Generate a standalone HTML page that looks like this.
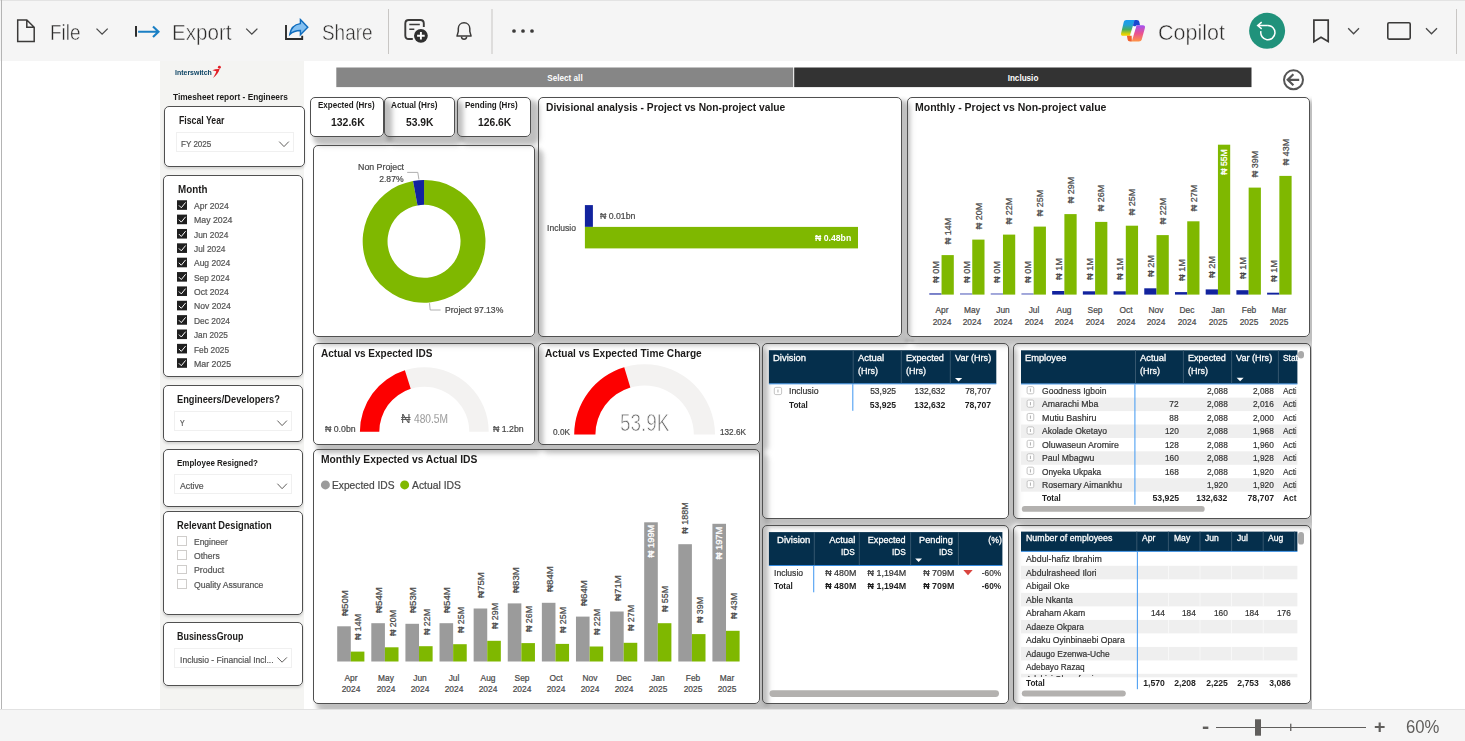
<!DOCTYPE html><html lang="en"><head><meta charset="utf-8"><title>Timesheet report - Engineers</title>
<style>

*{box-sizing:border-box}
html,body{margin:0;padding:0}
body{width:1465px;height:741px;overflow:hidden;background:#fff;position:relative;
 font-family:"Liberation Sans","DejaVu Sans",sans-serif;}
#top{position:absolute;left:0;top:0;width:1465px;height:61px;background:#f5f5f5;border-top:1px solid #e3e3e3}
#bot{position:absolute;left:0;top:709px;width:1465px;height:32px;background:#f5f5f5;border-top:1px solid #e2e2e2}
#lb{position:absolute;left:1px;top:0;width:1px;height:709px;background:#b4b4b4}
#side{position:absolute;left:160px;top:61px;width:144px;height:648px;background:#f4f4f2}
#canvas{position:absolute;left:160px;top:61px;width:1152px;height:648px;overflow:hidden}
#inner{position:absolute;left:-160px;top:-61px;width:1465px;height:741px}
.cbg{position:absolute;background:#fff;border-radius:5px}
.ssh{box-shadow:0 2px 2.5px rgba(0,0,0,.13)}
.csh{position:absolute;border-radius:5px;box-shadow:5.5px 5.5px 4px 2.5px rgba(0,0,0,.19),7px 7px 7px 2px rgba(0,0,0,.08)}
.cbd{position:absolute;border:1px solid #505050;border-radius:5px}
.t{position:absolute;white-space:nowrap;display:block}
svg{position:absolute;left:0;top:0;overflow:visible}

</style></head><body>
<div id="top"></div><div id="bot"></div><div id="lb"></div><div id="side"></div>
<div id="canvas"><div id="inner">
<div class="cbg" style="left:310px;top:97px;width:74px;height:40px;"></div>
<div class="cbg" style="left:384px;top:97px;width:71px;height:40px;"></div>
<div class="cbg" style="left:457px;top:97px;width:74px;height:40px;"></div>
<div class="cbg" style="left:313px;top:145px;width:222px;height:192px;"></div>
<div class="cbg" style="left:538px;top:97px;width:364px;height:240px;"></div>
<div class="cbg" style="left:907px;top:97px;width:403px;height:240px;"></div>
<div class="cbg" style="left:313px;top:343px;width:222px;height:102px;"></div>
<div class="cbg" style="left:538px;top:343px;width:222px;height:102px;"></div>
<div class="cbg" style="left:762px;top:343px;width:247px;height:176px;"></div>
<div class="cbg" style="left:1013px;top:343px;width:298px;height:176px;"></div>
<div class="cbg" style="left:313px;top:449px;width:447px;height:255px;"></div>
<div class="cbg" style="left:762px;top:525px;width:247px;height:179px;"></div>
<div class="cbg" style="left:1013px;top:525px;width:298px;height:179px;"></div>
<div class="cbg ssh" style="left:164px;top:106px;width:141px;height:61px;"></div>
<div class="cbg ssh" style="left:163px;top:175px;width:140px;height:202px;"></div>
<div class="cbg ssh" style="left:163px;top:385px;width:140px;height:57px;"></div>
<div class="cbg ssh" style="left:163px;top:449px;width:140px;height:58px;"></div>
<div class="cbg ssh" style="left:163px;top:511px;width:140px;height:104px;"></div>
<div class="cbg ssh" style="left:163px;top:622px;width:140px;height:64px;"></div>
<div class="csh" style="left:310px;top:97px;width:74px;height:40px;"></div>
<div class="csh" style="left:384px;top:97px;width:71px;height:40px;"></div>
<div class="csh" style="left:457px;top:97px;width:74px;height:40px;"></div>
<div class="csh" style="left:313px;top:145px;width:222px;height:192px;"></div>
<div class="csh" style="left:538px;top:97px;width:364px;height:240px;"></div>
<div class="csh" style="left:907px;top:97px;width:403px;height:240px;"></div>
<div class="csh" style="left:313px;top:343px;width:222px;height:102px;"></div>
<div class="csh" style="left:538px;top:343px;width:222px;height:102px;"></div>
<div class="csh" style="left:762px;top:343px;width:247px;height:176px;"></div>
<div class="csh" style="left:1013px;top:343px;width:298px;height:176px;"></div>
<div class="csh" style="left:313px;top:449px;width:447px;height:255px;"></div>
<div class="csh" style="left:762px;top:525px;width:247px;height:179px;"></div>
<div class="csh" style="left:1013px;top:525px;width:298px;height:179px;"></div>
<div style="position:absolute;left:905px;top:338.5px;width:9px;height:4px;background:rgba(0,0,0,.16);filter:blur(1.6px)"></div>
<div class="cbd" style="left:310px;top:97px;width:74px;height:40px;"></div>
<div class="cbd" style="left:384px;top:97px;width:71px;height:40px;"></div>
<div class="cbd" style="left:457px;top:97px;width:74px;height:40px;"></div>
<div class="cbd" style="left:313px;top:145px;width:222px;height:192px;"></div>
<div class="cbd" style="left:538px;top:97px;width:364px;height:240px;"></div>
<div class="cbd" style="left:907px;top:97px;width:403px;height:240px;"></div>
<div class="cbd" style="left:313px;top:343px;width:222px;height:102px;"></div>
<div class="cbd" style="left:538px;top:343px;width:222px;height:102px;"></div>
<div class="cbd" style="left:762px;top:343px;width:247px;height:176px;"></div>
<div class="cbd" style="left:1013px;top:343px;width:298px;height:176px;"></div>
<div class="cbd" style="left:313px;top:449px;width:447px;height:255px;"></div>
<div class="cbd" style="left:762px;top:525px;width:247px;height:179px;"></div>
<div class="cbd" style="left:1013px;top:525px;width:298px;height:179px;"></div>
<div class="cbd" style="left:164px;top:106px;width:141px;height:61px;"></div>
<div class="cbd" style="left:163px;top:175px;width:140px;height:202px;"></div>
<div class="cbd" style="left:163px;top:385px;width:140px;height:57px;"></div>
<div class="cbd" style="left:163px;top:449px;width:140px;height:58px;"></div>
<div class="cbd" style="left:163px;top:511px;width:140px;height:104px;"></div>
<div class="cbd" style="left:163px;top:622px;width:140px;height:64px;"></div>
</div></div>
<div style="position:absolute;left:176px;top:132px;width:118px;height:20px;background:#fff;border:1px solid #f0f0f0;"></div>
<div style="position:absolute;left:174px;top:411px;width:118px;height:20px;background:#fff;border:1px solid #f0f0f0;"></div>
<div style="position:absolute;left:174px;top:474px;width:118px;height:20px;background:#fff;border:1px solid #f0f0f0;"></div>
<div style="position:absolute;left:177px;top:536.4px;width:10px;height:9.6px;background:#fff;border:1px solid #cfcdcb;"></div>
<div style="position:absolute;left:177px;top:550.3px;width:10px;height:9.6px;background:#fff;border:1px solid #cfcdcb;"></div>
<div style="position:absolute;left:177px;top:564.7px;width:10px;height:9.6px;background:#fff;border:1px solid #cfcdcb;"></div>
<div style="position:absolute;left:177px;top:579px;width:10px;height:9.6px;background:#fff;border:1px solid #cfcdcb;"></div>
<div style="position:absolute;left:174px;top:648px;width:118px;height:20px;background:#fff;border:1px solid #f0f0f0;"></div>
<svg width="1465" height="741" viewBox="0 0 1465 741">
<path d="M17.7 19.9H26.8L34.2 27.3V41.6H17.7Z M26.8 19.9V27.3H34.2" fill="none" stroke="#3b3a39" stroke-width="1.5" stroke-linejoin="miter"/>
<polyline points="96.5,28.6 102.1,34.2 107.7,28.6" fill="none" stroke="#4a4a4a" stroke-width="1.30"/>
<path d="M136 26V36.8" stroke="#2e2e2e" stroke-width="2" fill="none"/>
<path d="M138.1 31.75H158.2 M153 26.4L158.5 31.75L153 37.1" stroke="#1a7fc4" stroke-width="2.1" fill="none"/>
<polyline points="246.2,28.6 251.8,34.2 257.4,28.6" fill="none" stroke="#4a4a4a" stroke-width="1.30"/>
<path d="M286 25V39H302.2V35.8" stroke="#2b2b2b" stroke-width="1.9" fill="none"/>
<path d="M300.4 19.6L307.8 27.2L300.4 34.8V30.5C296 30.5 292.6 31.8 289.8 34.4C290.6 28.6 294 24.5 300.4 23.6Z" fill="#84c0f1" stroke="#0f6cbd" stroke-width="1.4" stroke-linejoin="miter"/>
<rect x="388.00" y="9.00" width="1.00" height="45.00" fill="#c8c6c4" />
<path d="M412.8 39H408.8C406.8 39 405.3 37.5 405.3 35.5V23.5C405.3 21.5 406.8 20 408.8 20H420.3C422.3 20 423.8 21.5 423.8 23.5V27" fill="none" stroke="#3b3a39" stroke-width="1.9"/>
<path d="M409.3 24.6H419.8 M409.3 29.3H414.3" stroke="#3b3a39" stroke-width="1.5" fill="none"/>
<circle cx="420.9" cy="35.8" r="7.6" fill="#f5f5f5"/>
<circle cx="420.9" cy="35.8" r="6.9" fill="#2f2f2f"/>
<path d="M417.1 35.8H424.7 M420.9 32V39.6" stroke="#fff" stroke-width="1.9" fill="none"/>
<path d="M457 36.1H471.1L469.8 31.4V28.6C469.8 25.2 467.3 22.8 464.05 22.8C460.8 22.8 458.3 25.2 458.3 28.6V31.4Z" fill="none" stroke="#3b3a39" stroke-width="1.5" stroke-linejoin="round"/>
<path d="M461.4 36.6C461.6 38.3 462.7 39.2 464.05 39.2C465.4 39.2 466.5 38.3 466.7 36.6" fill="none" stroke="#3b3a39" stroke-width="1.4"/>
<rect x="491.50" y="9.00" width="1.00" height="45.00" fill="#c8c6c4" />
<circle cx="514.0" cy="31" r="1.85" fill="#3b3a39"/>
<circle cx="523.0" cy="31" r="1.85" fill="#3b3a39"/>
<circle cx="532.0" cy="31" r="1.85" fill="#3b3a39"/>
<defs>
<linearGradient id="cpA" x1="0" y1="0" x2="0" y2="1"><stop offset="0" stop-color="#1a9bf0"/><stop offset=".3" stop-color="#22a0d8"/><stop offset=".6" stop-color="#48ad5e"/><stop offset=".9" stop-color="#e6d400"/><stop offset="1" stop-color="#f0d000"/></linearGradient>
<linearGradient id="cpB" x1="0" y1="0" x2="0" y2="1"><stop offset="0" stop-color="#a352f2"/><stop offset=".5" stop-color="#ea5190"/><stop offset="1" stop-color="#ff9544"/></linearGradient>
<linearGradient id="cpC" x1="0" y1="0" x2="1" y2="0"><stop offset="0" stop-color="#1e5fd0"/><stop offset="1" stop-color="#58b8f0"/></linearGradient>
</defs>
<path d="M1126.4 20.1H1134.7L1129.8 35.8H1123.2C1121.4 35.8 1120.7 34.8 1121.1 33.2L1123.7 22.2C1124.1 20.8 1124.9 20.1 1126.4 20.1Z" fill="url(#cpA)"/>
<path d="M1134.5 20.1H1136.8C1138.4 20.1 1139.1 20.9 1139.4 22.3L1140 25.3H1136.6L1134.9 26.7L1132.9 25.6Z" fill="#1848d0"/>
<path d="M1126.9 35.8H1131.6L1131.9 41.5H1130.2C1128.6 41.5 1127.9 40.8 1127.6 39.5Z" fill="#f2602a"/>
<path d="M1136.6 25.3H1142.9C1144.7 25.3 1145.3 26.3 1144.9 27.9L1141.8 39.3C1141.3 40.8 1140.4 41.5 1138.9 41.5H1131.8Z" fill="url(#cpB)"/>
<path d="M1133.9 26.6H1135.9L1133 35.2H1130.9Z" fill="#fff"/>
<circle cx="1267.1" cy="30.8" r="18" fill="#20927b"/>
<path d="M1267.9 25.5A7.1 7.1 0 1 1 1260.9 31.2" fill="none" stroke="#fff" stroke-width="1.5"/>
<path d="M1267.9 25.5H1257.8 M1261.7 22.1L1257.7 25.5L1261.7 28.9" fill="none" stroke="#fff" stroke-width="1.5"/>
<path d="M1313.9 20.1H1328.2V41.6L1321 37.2L1313.9 41.6Z" fill="none" stroke="#3b3a39" stroke-width="1.7"/>
<polyline points="1348.2,28.2 1353.6,33.8 1359.0,28.2" fill="none" stroke="#4a4a4a" stroke-width="1.30"/>
<rect x="1387.8" y="22.8" width="22.4" height="16.3" rx="1.3" fill="none" stroke="#3b3a39" stroke-width="1.6"/>
<polyline points="1426.0,28.2 1431.5,33.8 1437.0,28.2" fill="none" stroke="#4a4a4a" stroke-width="1.30"/>
<rect x="1456.00" y="9.00" width="1.00" height="45.00" fill="#c8c6c4" />
<rect x="1216.00" y="727.00" width="150.00" height="1.00" fill="#605e5c" />
<rect x="1255.00" y="719.30" width="6.00" height="16.40" fill="#605e5c" />
<rect x="1290.10" y="723.70" width="1.30" height="7.30" fill="#605e5c" />
<circle cx="219.4" cy="67.2" r="1.45" fill="#e21f26"/>
<path d="M212.3 70.3C214.8 69.3 217 68.9 219.6 69.1C218.8 72.4 216.5 75.7 213 78.1C214.5 75.7 215.7 73.5 216.3 71.3C215 70.9 213.6 70.6 212.3 70.3Z" fill="#e21f26"/>
<polyline points="279.2,141.6 284.0,146.6 288.8,141.6" fill="none" stroke="#605e5c" stroke-width="1.00"/>
<rect x="177.00" y="200.25" width="10.00" height="9.60" fill="#1f1f1f" />
<polyline points="178.90,205.35 181.30,207.75 185.60,202.45" fill="none" stroke="#fff" stroke-width="1"/>
<rect x="177.00" y="214.61" width="10.00" height="9.60" fill="#1f1f1f" />
<polyline points="178.90,219.71 181.30,222.11 185.60,216.81" fill="none" stroke="#fff" stroke-width="1"/>
<rect x="177.00" y="228.97" width="10.00" height="9.60" fill="#1f1f1f" />
<polyline points="178.90,234.07 181.30,236.47 185.60,231.17" fill="none" stroke="#fff" stroke-width="1"/>
<rect x="177.00" y="243.33" width="10.00" height="9.60" fill="#1f1f1f" />
<polyline points="178.90,248.43 181.30,250.83 185.60,245.53" fill="none" stroke="#fff" stroke-width="1"/>
<rect x="177.00" y="257.69" width="10.00" height="9.60" fill="#1f1f1f" />
<polyline points="178.90,262.79 181.30,265.19 185.60,259.89" fill="none" stroke="#fff" stroke-width="1"/>
<rect x="177.00" y="272.05" width="10.00" height="9.60" fill="#1f1f1f" />
<polyline points="178.90,277.15 181.30,279.55 185.60,274.25" fill="none" stroke="#fff" stroke-width="1"/>
<rect x="177.00" y="286.41" width="10.00" height="9.60" fill="#1f1f1f" />
<polyline points="178.90,291.51 181.30,293.91 185.60,288.61" fill="none" stroke="#fff" stroke-width="1"/>
<rect x="177.00" y="300.77" width="10.00" height="9.60" fill="#1f1f1f" />
<polyline points="178.90,305.87 181.30,308.27 185.60,302.97" fill="none" stroke="#fff" stroke-width="1"/>
<rect x="177.00" y="315.13" width="10.00" height="9.60" fill="#1f1f1f" />
<polyline points="178.90,320.23 181.30,322.63 185.60,317.33" fill="none" stroke="#fff" stroke-width="1"/>
<rect x="177.00" y="329.49" width="10.00" height="9.60" fill="#1f1f1f" />
<polyline points="178.90,334.59 181.30,336.99 185.60,331.69" fill="none" stroke="#fff" stroke-width="1"/>
<rect x="177.00" y="343.85" width="10.00" height="9.60" fill="#1f1f1f" />
<polyline points="178.90,348.95 181.30,351.35 185.60,346.05" fill="none" stroke="#fff" stroke-width="1"/>
<rect x="177.00" y="358.21" width="10.00" height="9.60" fill="#1f1f1f" />
<polyline points="178.90,363.31 181.30,365.71 185.60,360.41" fill="none" stroke="#fff" stroke-width="1"/>
<polyline points="277.4,420.6 282.1,425.6 286.9,420.6" fill="none" stroke="#605e5c" stroke-width="1.00"/>
<polyline points="277.4,483.7 282.1,488.7 286.9,483.7" fill="none" stroke="#605e5c" stroke-width="1.00"/>
<polyline points="277.4,657.4 282.1,662.2 286.9,657.4" fill="none" stroke="#605e5c" stroke-width="1.00"/>
<rect x="336.30" y="67.50" width="456.90" height="19.60" fill="#868686" />
<rect x="794.20" y="67.50" width="457.30" height="19.60" fill="#333333" />
<circle cx="1293.5" cy="79.8" r="9.5" fill="none" stroke="#555" stroke-width="2"/>
<path d="M1299.2 79.8H1288 M1293.4 74.3L1287.7 79.8L1293.4 85.3" fill="none" stroke="#555" stroke-width="2.2"/>
<path d="M424.05 179.90A61.40 61.40 0 1 1 413.04 180.90L417.50 205.39A36.50 36.50 0 1 0 424.05 204.80Z" fill="#7fb800"/>
<path d="M413.04 180.90A61.40 61.40 0 0 1 424.05 179.90L424.05 204.80A36.50 36.50 0 0 0 417.50 205.39Z" fill="#12239e"/>
<polyline points="407.2,172.4 417.8,172.4 418.9,179.4" fill="none" stroke="#a6a6a6" stroke-width="0.9"/>
<polyline points="429.5,303.2 430.2,310 440.6,310" fill="none" stroke="#a6a6a6" stroke-width="0.9"/>
<rect x="584.90" y="205.10" width="8.00" height="21.80" fill="#12239e" />
<rect x="584.90" y="226.90" width="273.10" height="21.50" fill="#7fb800" />
<rect x="929.30" y="293.35" width="12.25" height="1.25" fill="#2e3aab" />
<rect x="941.55" y="255.10" width="12.25" height="39.50" fill="#7fb800" />
<rect x="960.01" y="293.35" width="12.25" height="1.25" fill="#6c76c5" />
<rect x="972.26" y="239.60" width="12.25" height="55.00" fill="#7fb800" />
<rect x="990.72" y="293.35" width="12.25" height="1.25" fill="#6c76c5" />
<rect x="1002.97" y="234.60" width="12.25" height="60.00" fill="#7fb800" />
<rect x="1021.43" y="293.35" width="12.25" height="1.25" fill="#6c76c5" />
<rect x="1033.68" y="226.60" width="12.25" height="68.00" fill="#7fb800" />
<rect x="1052.14" y="291.00" width="12.25" height="3.60" fill="#12239e" />
<rect x="1064.39" y="214.10" width="12.25" height="80.50" fill="#7fb800" />
<rect x="1082.85" y="291.30" width="12.25" height="3.30" fill="#12239e" />
<rect x="1095.10" y="221.90" width="12.25" height="72.70" fill="#7fb800" />
<rect x="1113.56" y="291.30" width="12.25" height="3.30" fill="#12239e" />
<rect x="1125.81" y="225.70" width="12.25" height="68.90" fill="#7fb800" />
<rect x="1144.27" y="288.30" width="12.25" height="6.30" fill="#12239e" />
<rect x="1156.52" y="235.10" width="12.25" height="59.50" fill="#7fb800" />
<rect x="1174.98" y="292.10" width="12.25" height="2.50" fill="#12239e" />
<rect x="1187.23" y="221.30" width="12.25" height="73.30" fill="#7fb800" />
<rect x="1205.69" y="289.40" width="12.25" height="5.20" fill="#12239e" />
<rect x="1217.94" y="144.70" width="12.25" height="149.90" fill="#7fb800" />
<rect x="1236.40" y="290.20" width="12.25" height="4.40" fill="#12239e" />
<rect x="1248.65" y="187.60" width="12.25" height="107.00" fill="#7fb800" />
<rect x="1267.11" y="292.70" width="12.25" height="1.90" fill="#12239e" />
<rect x="1279.36" y="175.90" width="12.25" height="118.70" fill="#7fb800" />
<path d="M359.90 431.70A64.40 64.40 0 0 1 488.70 431.70L469.30 431.70A45.00 45.00 0 0 0 379.30 431.70Z" fill="#f3f2f1"/>
<path d="M359.90 431.70A64.40 64.40 0 0 1 404.86 370.30L410.72 388.80A45.00 45.00 0 0 0 379.30 431.70Z" fill="#fd0000"/>
<path d="M574.20 434.60A70.40 70.40 0 0 1 715.00 434.60L693.80 434.60A49.20 49.20 0 0 0 595.40 434.60Z" fill="#f3f2f1"/>
<path d="M574.20 434.60A70.40 70.40 0 0 1 624.22 367.22L630.35 387.51A49.20 49.20 0 0 0 595.40 434.60Z" fill="#fd0000"/>
<circle cx="325.4" cy="484.9" r="4.5" fill="#9b9b9b"/>
<circle cx="404.65" cy="484.9" r="4.5" fill="#7fb800"/>
<rect x="337.20" y="626.30" width="13.60" height="35.20" fill="#9b9b9b" />
<rect x="350.80" y="651.60" width="13.60" height="9.90" fill="#7fb800" />
<rect x="371.31" y="623.20" width="13.60" height="38.30" fill="#9b9b9b" />
<rect x="384.91" y="647.30" width="13.60" height="14.20" fill="#7fb800" />
<rect x="405.42" y="623.80" width="13.60" height="37.70" fill="#9b9b9b" />
<rect x="419.02" y="646.20" width="13.60" height="15.30" fill="#7fb800" />
<rect x="439.53" y="623.20" width="13.60" height="38.30" fill="#9b9b9b" />
<rect x="453.13" y="644.20" width="13.60" height="17.30" fill="#7fb800" />
<rect x="473.64" y="608.50" width="13.60" height="53.00" fill="#9b9b9b" />
<rect x="487.24" y="640.80" width="13.60" height="20.70" fill="#7fb800" />
<rect x="507.75" y="603.40" width="13.60" height="58.10" fill="#9b9b9b" />
<rect x="521.35" y="643.10" width="13.60" height="18.40" fill="#7fb800" />
<rect x="541.86" y="602.80" width="13.60" height="58.70" fill="#9b9b9b" />
<rect x="555.46" y="643.90" width="13.60" height="17.60" fill="#7fb800" />
<rect x="575.97" y="616.60" width="13.60" height="44.90" fill="#9b9b9b" />
<rect x="589.57" y="646.50" width="13.60" height="15.00" fill="#7fb800" />
<rect x="610.08" y="611.50" width="13.60" height="50.00" fill="#9b9b9b" />
<rect x="623.68" y="642.80" width="13.60" height="18.70" fill="#7fb800" />
<rect x="644.19" y="522.30" width="13.60" height="139.20" fill="#9b9b9b" />
<rect x="657.79" y="623.20" width="13.60" height="38.30" fill="#7fb800" />
<rect x="678.30" y="544.20" width="13.60" height="117.30" fill="#9b9b9b" />
<rect x="691.90" y="634.10" width="13.60" height="27.40" fill="#7fb800" />
<rect x="712.41" y="523.80" width="13.60" height="137.70" fill="#9b9b9b" />
<rect x="726.01" y="630.80" width="13.60" height="30.70" fill="#7fb800" />
<rect x="768.90" y="350.20" width="227.40" height="33.40" fill="#052f4c" />
<rect x="852.70" y="350.20" width="1.00" height="33.40" fill="#35566e" />
<rect x="900.80" y="350.20" width="1.00" height="33.40" fill="#35566e" />
<rect x="949.80" y="350.20" width="1.00" height="33.40" fill="#35566e" />
<polygon points="955.00,377.90 962.20,377.90 958.60,381.50" fill="#fff"/>
<rect x="768.90" y="383.40" width="227.40" height="0.90" fill="#2a86e2" />
<rect x="852.25" y="384.20" width="1.10" height="26.60" fill="#4fa0f2" />
<rect x="774.30" y="387.40" width="7.30" height="7.20" rx="1.5" fill="#fff" stroke="#bdbdbd" stroke-width="0.9"/>
<path d="M777.95 389.40V392.60" stroke="#b5b5b5" stroke-width="1.1"/>
<rect x="1021.00" y="350.30" width="276.40" height="33.40" fill="#052f4c" />
<rect x="1135.00" y="350.30" width="1.00" height="33.40" fill="#35566e" />
<rect x="1182.90" y="350.30" width="1.00" height="33.40" fill="#35566e" />
<rect x="1231.10" y="350.30" width="1.00" height="33.40" fill="#35566e" />
<rect x="1277.90" y="350.30" width="1.00" height="33.40" fill="#35566e" />
<polygon points="1236.60,377.70 1243.60,377.70 1240.10,381.20" fill="#fff"/>
<rect x="1298.10" y="350.90" width="5.90" height="7.60" rx="2.95" fill="#a9a9a9"/>
<rect x="1027.10" y="386.60" width="6.70" height="7.20" rx="1.5" fill="#fff" stroke="#bdbdbd" stroke-width="0.9"/>
<path d="M1030.45 388.60V391.80" stroke="#b5b5b5" stroke-width="1.1"/>
<rect x="1021.00" y="397.63" width="276.40" height="13.45" fill="#efefef" />
<rect x="1027.10" y="400.03" width="6.70" height="7.20" rx="1.5" fill="#fff" stroke="#bdbdbd" stroke-width="0.9"/>
<path d="M1030.45 402.03V405.23" stroke="#b5b5b5" stroke-width="1.1"/>
<rect x="1027.10" y="413.46" width="6.70" height="7.20" rx="1.5" fill="#fff" stroke="#bdbdbd" stroke-width="0.9"/>
<path d="M1030.45 415.46V418.66" stroke="#b5b5b5" stroke-width="1.1"/>
<rect x="1021.00" y="424.49" width="276.40" height="13.45" fill="#efefef" />
<rect x="1027.10" y="426.89" width="6.70" height="7.20" rx="1.5" fill="#fff" stroke="#bdbdbd" stroke-width="0.9"/>
<path d="M1030.45 428.89V432.09" stroke="#b5b5b5" stroke-width="1.1"/>
<rect x="1027.10" y="440.32" width="6.70" height="7.20" rx="1.5" fill="#fff" stroke="#bdbdbd" stroke-width="0.9"/>
<path d="M1030.45 442.32V445.52" stroke="#b5b5b5" stroke-width="1.1"/>
<rect x="1021.00" y="451.35" width="276.40" height="13.45" fill="#efefef" />
<rect x="1027.10" y="453.75" width="6.70" height="7.20" rx="1.5" fill="#fff" stroke="#bdbdbd" stroke-width="0.9"/>
<path d="M1030.45 455.75V458.95" stroke="#b5b5b5" stroke-width="1.1"/>
<rect x="1027.10" y="467.18" width="6.70" height="7.20" rx="1.5" fill="#fff" stroke="#bdbdbd" stroke-width="0.9"/>
<path d="M1030.45 469.18V472.38" stroke="#b5b5b5" stroke-width="1.1"/>
<rect x="1021.00" y="478.21" width="276.40" height="13.45" fill="#efefef" />
<rect x="1027.10" y="480.61" width="6.70" height="7.20" rx="1.5" fill="#fff" stroke="#bdbdbd" stroke-width="0.9"/>
<path d="M1030.45 482.61V485.81" stroke="#b5b5b5" stroke-width="1.1"/>
<rect x="1021.00" y="383.50" width="276.40" height="0.90" fill="#2a86e2" />
<rect x="1134.35" y="384.30" width="1.10" height="120.40" fill="#4fa0f2" />
<rect x="1021.80" y="506.00" width="182.90" height="5.80" rx="2.90" fill="#b3b1af"/>
<rect x="1021.00" y="531.60" width="276.40" height="19.50" fill="#052f4c" />
<rect x="1136.30" y="531.60" width="1.00" height="19.50" fill="#35566e" />
<rect x="1167.90" y="531.60" width="1.00" height="19.50" fill="#35566e" />
<rect x="1199.50" y="531.60" width="1.00" height="19.50" fill="#35566e" />
<rect x="1231.10" y="531.60" width="1.00" height="19.50" fill="#35566e" />
<rect x="1262.70" y="531.60" width="1.00" height="19.50" fill="#35566e" />
<rect x="1294.20" y="531.60" width="1.00" height="19.50" fill="#35566e" />
<rect x="1298.10" y="532.10" width="5.90" height="12.50" rx="2.95" fill="#a9a9a9"/>
<rect x="1021.00" y="565.82" width="276.40" height="13.50" fill="#efefef" />
<rect x="1168.00" y="565.82" width="0.80" height="13.50" fill="#fafafa" />
<rect x="1199.60" y="565.82" width="0.80" height="13.50" fill="#fafafa" />
<rect x="1231.20" y="565.82" width="0.80" height="13.50" fill="#fafafa" />
<rect x="1262.80" y="565.82" width="0.80" height="13.50" fill="#fafafa" />
<rect x="1021.00" y="592.86" width="276.40" height="13.50" fill="#efefef" />
<rect x="1168.00" y="592.86" width="0.80" height="13.50" fill="#fafafa" />
<rect x="1199.60" y="592.86" width="0.80" height="13.50" fill="#fafafa" />
<rect x="1231.20" y="592.86" width="0.80" height="13.50" fill="#fafafa" />
<rect x="1262.80" y="592.86" width="0.80" height="13.50" fill="#fafafa" />
<rect x="1021.00" y="619.90" width="276.40" height="13.50" fill="#efefef" />
<rect x="1168.00" y="619.90" width="0.80" height="13.50" fill="#fafafa" />
<rect x="1199.60" y="619.90" width="0.80" height="13.50" fill="#fafafa" />
<rect x="1231.20" y="619.90" width="0.80" height="13.50" fill="#fafafa" />
<rect x="1262.80" y="619.90" width="0.80" height="13.50" fill="#fafafa" />
<rect x="1021.00" y="646.94" width="276.40" height="13.50" fill="#efefef" />
<rect x="1168.00" y="646.94" width="0.80" height="13.50" fill="#fafafa" />
<rect x="1199.60" y="646.94" width="0.80" height="13.50" fill="#fafafa" />
<rect x="1231.20" y="646.94" width="0.80" height="13.50" fill="#fafafa" />
<rect x="1262.80" y="646.94" width="0.80" height="13.50" fill="#fafafa" />
<rect x="1021.00" y="673.80" width="276.40" height="3.50" fill="#efefef" />
<rect x="1021.00" y="550.90" width="276.40" height="0.90" fill="#2a86e2" />
<rect x="1136.85" y="551.70" width="1.10" height="137.50" fill="#4fa0f2" />
<rect x="1021.80" y="690.50" width="104.00" height="6.10" rx="3.05" fill="#b3b1af"/>
<rect x="768.90" y="532.10" width="233.50" height="33.20" fill="#052f4c" />
<rect x="813.80" y="532.10" width="1.00" height="33.20" fill="#35566e" />
<rect x="858.80" y="532.10" width="1.00" height="33.20" fill="#35566e" />
<rect x="910.10" y="532.10" width="1.00" height="33.20" fill="#35566e" />
<rect x="957.90" y="532.10" width="1.00" height="33.20" fill="#35566e" />
<polygon points="915.20,558.60 922.00,558.60 918.60,561.90" fill="#fff"/>
<rect x="768.90" y="565.00" width="233.50" height="0.90" fill="#2a86e2" />
<rect x="813.15" y="565.80" width="1.10" height="26.50" fill="#4fa0f2" />
<polygon points="963.30,569.90 972.70,569.90 968.00,575.30" fill="#d9453f"/>
<rect x="769.50" y="690.20" width="229.50" height="6.70" rx="3.35" fill="#b3b1af"/>
</svg>
<span class="t" id="t1" style="font-size:22.00px;line-height:22.00px;color:#2b2a29;left:50.00px;top:22.00px;transform-origin:0 50%;transform:scaleX(0.8603);-webkit-text-stroke:0.5px #f5f5f5;">File</span>
<span class="t" id="t2" style="font-size:22.00px;line-height:22.00px;color:#2b2a29;left:172.00px;top:22.00px;transform-origin:0 50%;transform:scaleX(0.9356);-webkit-text-stroke:0.5px #f5f5f5;">Export</span>
<span class="t" id="t3" style="font-size:22.00px;line-height:22.00px;color:#2b2a29;left:321.60px;top:22.00px;transform-origin:0 50%;transform:scaleX(0.8600);-webkit-text-stroke:0.5px #f5f5f5;">Share</span>
<span class="t" id="t4" style="font-size:22.00px;line-height:22.00px;color:#2b2a29;left:1157.90px;top:22.00px;transform-origin:0 50%;transform:scaleX(0.9769);-webkit-text-stroke:0.5px #f5f5f5;">Copilot</span>
<span class="t" id="t5" style="font-size:20.00px;line-height:20.00px;color:#605e5c;font-weight:700;left:1202.20px;top:716.00px;transform-origin:0 50%;transform:scaleX(1.0792);">-</span>
<span class="t" id="t6" style="font-size:18.00px;line-height:18.00px;color:#605e5c;font-weight:700;left:1374.40px;top:718.00px;transform-origin:0 50%;transform:scaleX(1.0841);">+</span>
<span class="t" id="t7" style="font-size:17.80px;line-height:17.80px;color:#605e5c;left:1406.30px;top:719.00px;transform-origin:0 50%;transform:scaleX(0.9384);">60%</span>
<span class="t" id="t8" style="font-size:7.40px;line-height:7.40px;color:#0e4565;font-weight:700;left:174.80px;top:69.00px;transform-origin:0 50%;transform:scaleX(0.9432);">Interswitch</span>
<span class="t" id="t9" style="font-size:9.30px;line-height:9.30px;color:#1c1b1a;font-weight:700;left:172.50px;top:93.00px;transform-origin:0 50%;transform:scaleX(0.8935);">Timesheet report - Engineers</span>
<span class="t" id="t10" style="font-size:10.00px;line-height:10.00px;color:#1c1b1a;font-weight:700;left:178.80px;top:116.00px;transform-origin:0 50%;transform:scaleX(0.8734);">Fiscal Year</span>
<span class="t" id="t11" style="font-size:8.90px;line-height:8.90px;color:#555555;-webkit-text-stroke:0.22px #555555;left:181.40px;top:140.00px;transform-origin:0 50%;transform:scaleX(0.9074);">FY 2025</span>
<span class="t" id="t12" style="font-size:10.00px;line-height:10.00px;color:#1c1b1a;font-weight:700;left:177.70px;top:185.00px;transform-origin:0 50%;transform:scaleX(0.9800);">Month</span>
<span class="t" id="t13" style="font-size:8.90px;line-height:8.90px;color:#555555;-webkit-text-stroke:0.22px #555555;left:194.40px;top:202.00px;transform-origin:0 50%;transform:scaleX(0.9658);">Apr 2024</span>
<span class="t" id="t14" style="font-size:8.90px;line-height:8.90px;color:#555555;-webkit-text-stroke:0.22px #555555;left:194.40px;top:216.00px;transform-origin:0 50%;transform:scaleX(0.9850);">May 2024</span>
<span class="t" id="t15" style="font-size:8.90px;line-height:8.90px;color:#555555;-webkit-text-stroke:0.22px #555555;left:194.40px;top:231.00px;transform-origin:0 50%;transform:scaleX(0.9389);">Jun 2024</span>
<span class="t" id="t16" style="font-size:8.90px;line-height:8.90px;color:#555555;-webkit-text-stroke:0.22px #555555;left:194.40px;top:245.00px;transform-origin:0 50%;transform:scaleX(0.9356);">Jul 2024</span>
<span class="t" id="t17" style="font-size:8.90px;line-height:8.90px;color:#555555;-webkit-text-stroke:0.22px #555555;left:194.40px;top:259.00px;transform-origin:0 50%;transform:scaleX(0.9549);">Aug 2024</span>
<span class="t" id="t18" style="font-size:8.90px;line-height:8.90px;color:#555555;-webkit-text-stroke:0.22px #555555;left:194.40px;top:274.00px;transform-origin:0 50%;transform:scaleX(0.9338);">Sep 2024</span>
<span class="t" id="t19" style="font-size:8.90px;line-height:8.90px;color:#555555;-webkit-text-stroke:0.22px #555555;left:194.40px;top:288.00px;transform-origin:0 50%;transform:scaleX(0.9658);">Oct 2024</span>
<span class="t" id="t20" style="font-size:8.90px;line-height:8.90px;color:#555555;-webkit-text-stroke:0.22px #555555;left:194.40px;top:302.00px;transform-origin:0 50%;transform:scaleX(0.9684);">Nov 2024</span>
<span class="t" id="t21" style="font-size:8.90px;line-height:8.90px;color:#555555;-webkit-text-stroke:0.22px #555555;left:194.40px;top:317.00px;transform-origin:0 50%;transform:scaleX(0.9474);">Dec 2024</span>
<span class="t" id="t22" style="font-size:8.90px;line-height:8.90px;color:#555555;-webkit-text-stroke:0.22px #555555;left:194.40px;top:331.00px;transform-origin:0 50%;transform:scaleX(0.9252);">Jan 2025</span>
<span class="t" id="t23" style="font-size:8.90px;line-height:8.90px;color:#555555;-webkit-text-stroke:0.22px #555555;left:194.40px;top:346.00px;transform-origin:0 50%;transform:scaleX(0.9356);">Feb 2025</span>
<span class="t" id="t24" style="font-size:8.90px;line-height:8.90px;color:#555555;-webkit-text-stroke:0.22px #555555;left:194.40px;top:360.00px;transform-origin:0 50%;transform:scaleX(0.9893);">Mar 2025</span>
<span class="t" id="t25" style="font-size:10.00px;line-height:10.00px;color:#1c1b1a;font-weight:700;left:177.30px;top:395.00px;transform-origin:0 50%;transform:scaleX(0.9257);">Engineers/Developers?</span>
<span class="t" id="t26" style="font-size:8.20px;line-height:8.20px;color:#555555;-webkit-text-stroke:0.22px #555555;left:179.60px;top:420.00px;transform-origin:0 50%;transform:scaleX(0.8411);">Y</span>
<span class="t" id="t27" style="font-size:9.50px;line-height:9.50px;color:#1c1b1a;font-weight:700;left:177.30px;top:458.00px;transform-origin:0 50%;transform:scaleX(0.8429);">Employee Resigned?</span>
<span class="t" id="t28" style="font-size:9.00px;line-height:9.00px;color:#555555;-webkit-text-stroke:0.22px #555555;left:179.60px;top:482.00px;transform-origin:0 50%;transform:scaleX(0.9667);">Active</span>
<span class="t" id="t29" style="font-size:10.00px;line-height:10.00px;color:#1c1b1a;font-weight:700;left:177.30px;top:521.00px;transform-origin:0 50%;transform:scaleX(0.9302);">Relevant Designation</span>
<span class="t" id="t30" style="font-size:8.90px;line-height:8.90px;color:#555555;-webkit-text-stroke:0.22px #555555;left:194.40px;top:538.00px;transform-origin:0 50%;transform:scaleX(0.9513);">Engineer</span>
<span class="t" id="t31" style="font-size:8.90px;line-height:8.90px;color:#555555;-webkit-text-stroke:0.22px #555555;left:194.40px;top:552.00px;transform-origin:0 50%;transform:scaleX(0.9647);">Others</span>
<span class="t" id="t32" style="font-size:8.90px;line-height:8.90px;color:#555555;-webkit-text-stroke:0.22px #555555;left:194.40px;top:566.00px;transform-origin:0 50%;transform:scaleX(0.9871);">Product</span>
<span class="t" id="t33" style="font-size:8.90px;line-height:8.90px;color:#555555;-webkit-text-stroke:0.22px #555555;left:194.40px;top:581.00px;transform-origin:0 50%;transform:scaleX(0.9702);">Quality Assurance</span>
<span class="t" id="t34" style="font-size:10.00px;line-height:10.00px;color:#1c1b1a;font-weight:700;left:177.30px;top:632.00px;transform-origin:0 50%;transform:scaleX(0.8916);">BusinessGroup</span>
<span class="t" id="t35" style="font-size:9.20px;line-height:9.20px;color:#555555;-webkit-text-stroke:0.22px #555555;left:179.60px;top:656.00px;transform-origin:0 50%;transform:scaleX(0.9305);">Inclusio - Financial Incl...</span>
<span class="t" id="t36" style="font-size:8.60px;line-height:8.60px;color:#fff;font-weight:700;left:564.60px;top:74.00px;transform:translateX(-50%) scaleX(0.9473);">Select all</span>
<span class="t" id="t37" style="font-size:8.60px;line-height:8.60px;color:#fff;font-weight:700;left:1023.20px;top:74.00px;transform:translateX(-50%) scaleX(0.9451);">Inclusio</span>
<span class="t" id="t38" style="font-size:9.60px;line-height:9.60px;color:#1c1b1a;font-weight:700;left:317.60px;top:100.00px;transform-origin:0 50%;transform:scaleX(0.8358);">Expected (Hrs)</span>
<span class="t" id="t39" style="font-size:10.90px;line-height:10.90px;color:#1c1b1a;font-weight:700;left:330.50px;top:117.00px;transform-origin:0 50%;transform:scaleX(0.9594);">132.6K</span>
<span class="t" id="t40" style="font-size:9.60px;line-height:9.60px;color:#1c1b1a;font-weight:700;left:390.80px;top:100.00px;transform-origin:0 50%;transform:scaleX(0.8552);">Actual (Hrs)</span>
<span class="t" id="t41" style="font-size:10.90px;line-height:10.90px;color:#1c1b1a;font-weight:700;left:405.90px;top:117.00px;transform-origin:0 50%;transform:scaleX(0.9462);">53.9K</span>
<span class="t" id="t42" style="font-size:9.60px;line-height:9.60px;color:#1c1b1a;font-weight:700;left:464.50px;top:100.00px;transform-origin:0 50%;transform:scaleX(0.8378);">Pending (Hrs)</span>
<span class="t" id="t43" style="font-size:10.90px;line-height:10.90px;color:#1c1b1a;font-weight:700;left:477.80px;top:117.00px;transform-origin:0 50%;transform:scaleX(0.9480);">126.6K</span>
<span class="t" id="t44" style="font-size:9.00px;line-height:9.00px;color:#484848;-webkit-text-stroke:0.22px #484848;right:1061.00px;top:163.00px;transform-origin:100% 50%;transform:scaleX(0.9781);">Non Project</span>
<span class="t" id="t45" style="font-size:9.00px;line-height:9.00px;color:#484848;-webkit-text-stroke:0.22px #484848;right:1061.00px;top:175.00px;transform-origin:100% 50%;transform:scaleX(0.9518);">2.87%</span>
<span class="t" id="t46" style="font-size:9.00px;line-height:9.00px;color:#484848;-webkit-text-stroke:0.22px #484848;left:445.00px;top:306.00px;transform-origin:0 50%;transform:scaleX(0.9550);">Project 97.13%</span>
<span class="t" id="t47" style="font-size:11.20px;line-height:11.20px;color:#1c1b1a;font-weight:700;left:545.50px;top:102.00px;transform-origin:0 50%;transform:scaleX(0.9160);">Divisional analysis - Project vs Non-project value</span>
<span class="t" id="t48" style="font-size:9.30px;line-height:9.30px;color:#484848;-webkit-text-stroke:0.22px #484848;left:547.30px;top:224.00px;transform-origin:0 50%;transform:scaleX(0.9197);">Inclusio</span>
<span class="t" id="t49" style="font-size:9.30px;line-height:9.30px;color:#484848;-webkit-text-stroke:0.22px #484848;left:599.90px;top:212.00px;transform-origin:0 50%;transform:scaleX(0.9381);">₦ 0.01bn</span>
<span class="t" id="t50" style="font-size:9.30px;line-height:9.30px;color:#fff;font-weight:700;left:815.00px;top:234.00px;transform-origin:0 50%;transform:scaleX(0.9342);">₦ 0.48bn</span>
<span class="t" id="t51" style="font-size:11.20px;line-height:11.20px;color:#1c1b1a;font-weight:700;left:914.50px;top:102.00px;transform-origin:0 50%;transform:scaleX(0.9387);">Monthly - Project vs Non-project value</span>
<span class="t" id="t52" style="font-size:9.00px;line-height:9.00px;color:#484848;-webkit-text-stroke:0.22px #484848;left:941.50px;top:306.00px;transform:translateX(-50%) scaleX(0.9300);">Apr</span>
<span class="t" id="t53" style="font-size:9.00px;line-height:9.00px;color:#484848;-webkit-text-stroke:0.22px #484848;left:941.50px;top:318.00px;transform:translateX(-50%) scaleX(0.9300);">2024</span>
<span class="t" id="t54" style="font-size:8.80px;line-height:8.80px;color:#484848;-webkit-text-stroke:0.22px #484848;left:936.02px;top:271.70px;transform:translate(-50%,-50%) rotate(-90deg) scaleX(1.0461);">₦ 0M</span>
<span class="t" id="t55" style="font-size:8.80px;line-height:8.80px;color:#484848;-webkit-text-stroke:0.22px #484848;left:947.92px;top:231.40px;transform:translate(-50%,-50%) rotate(-90deg) scaleX(1.0184);">₦ 14M</span>
<span class="t" id="t56" style="font-size:9.00px;line-height:9.00px;color:#484848;-webkit-text-stroke:0.22px #484848;left:972.21px;top:306.00px;transform:translateX(-50%) scaleX(0.9300);">May</span>
<span class="t" id="t57" style="font-size:9.00px;line-height:9.00px;color:#484848;-webkit-text-stroke:0.22px #484848;left:972.21px;top:318.00px;transform:translateX(-50%) scaleX(0.9300);">2024</span>
<span class="t" id="t58" style="font-size:8.80px;line-height:8.80px;color:#484848;-webkit-text-stroke:0.22px #484848;left:966.74px;top:271.70px;transform:translate(-50%,-50%) rotate(-90deg) scaleX(1.0461);">₦ 0M</span>
<span class="t" id="t59" style="font-size:8.80px;line-height:8.80px;color:#484848;-webkit-text-stroke:0.22px #484848;left:978.63px;top:215.90px;transform:translate(-50%,-50%) rotate(-90deg) scaleX(1.0184);">₦ 20M</span>
<span class="t" id="t60" style="font-size:9.00px;line-height:9.00px;color:#484848;-webkit-text-stroke:0.22px #484848;left:1002.92px;top:306.00px;transform:translateX(-50%) scaleX(0.9300);">Jun</span>
<span class="t" id="t61" style="font-size:9.00px;line-height:9.00px;color:#484848;-webkit-text-stroke:0.22px #484848;left:1002.92px;top:318.00px;transform:translateX(-50%) scaleX(0.9300);">2024</span>
<span class="t" id="t62" style="font-size:8.80px;line-height:8.80px;color:#484848;-webkit-text-stroke:0.22px #484848;left:997.44px;top:271.70px;transform:translate(-50%,-50%) rotate(-90deg) scaleX(1.0461);">₦ 0M</span>
<span class="t" id="t63" style="font-size:8.80px;line-height:8.80px;color:#484848;-webkit-text-stroke:0.22px #484848;left:1009.34px;top:210.90px;transform:translate(-50%,-50%) rotate(-90deg) scaleX(1.0184);">₦ 22M</span>
<span class="t" id="t64" style="font-size:9.00px;line-height:9.00px;color:#484848;-webkit-text-stroke:0.22px #484848;left:1033.63px;top:306.00px;transform:translateX(-50%) scaleX(0.9300);">Jul</span>
<span class="t" id="t65" style="font-size:9.00px;line-height:9.00px;color:#484848;-webkit-text-stroke:0.22px #484848;left:1033.63px;top:318.00px;transform:translateX(-50%) scaleX(0.9300);">2024</span>
<span class="t" id="t66" style="font-size:8.80px;line-height:8.80px;color:#484848;-webkit-text-stroke:0.22px #484848;left:1028.15px;top:271.70px;transform:translate(-50%,-50%) rotate(-90deg) scaleX(1.0461);">₦ 0M</span>
<span class="t" id="t67" style="font-size:8.80px;line-height:8.80px;color:#484848;-webkit-text-stroke:0.22px #484848;left:1040.06px;top:202.90px;transform:translate(-50%,-50%) rotate(-90deg) scaleX(1.0184);">₦ 25M</span>
<span class="t" id="t68" style="font-size:9.00px;line-height:9.00px;color:#484848;-webkit-text-stroke:0.22px #484848;left:1064.34px;top:306.00px;transform:translateX(-50%) scaleX(0.9300);">Aug</span>
<span class="t" id="t69" style="font-size:9.00px;line-height:9.00px;color:#484848;-webkit-text-stroke:0.22px #484848;left:1064.34px;top:318.00px;transform:translateX(-50%) scaleX(0.9300);">2024</span>
<span class="t" id="t70" style="font-size:8.80px;line-height:8.80px;color:#484848;-webkit-text-stroke:0.22px #484848;left:1058.87px;top:269.00px;transform:translate(-50%,-50%) rotate(-90deg) scaleX(1.0461);">₦ 1M</span>
<span class="t" id="t71" style="font-size:8.80px;line-height:8.80px;color:#484848;-webkit-text-stroke:0.22px #484848;left:1070.76px;top:190.40px;transform:translate(-50%,-50%) rotate(-90deg) scaleX(1.0184);">₦ 29M</span>
<span class="t" id="t72" style="font-size:9.00px;line-height:9.00px;color:#484848;-webkit-text-stroke:0.22px #484848;left:1095.05px;top:306.00px;transform:translateX(-50%) scaleX(0.9300);">Sep</span>
<span class="t" id="t73" style="font-size:9.00px;line-height:9.00px;color:#484848;-webkit-text-stroke:0.22px #484848;left:1095.05px;top:318.00px;transform:translateX(-50%) scaleX(0.9300);">2024</span>
<span class="t" id="t74" style="font-size:8.80px;line-height:8.80px;color:#484848;-webkit-text-stroke:0.22px #484848;left:1089.58px;top:269.30px;transform:translate(-50%,-50%) rotate(-90deg) scaleX(1.0461);">₦ 1M</span>
<span class="t" id="t75" style="font-size:8.80px;line-height:8.80px;color:#484848;-webkit-text-stroke:0.22px #484848;left:1101.47px;top:198.20px;transform:translate(-50%,-50%) rotate(-90deg) scaleX(1.0184);">₦ 26M</span>
<span class="t" id="t76" style="font-size:9.00px;line-height:9.00px;color:#484848;-webkit-text-stroke:0.22px #484848;left:1125.76px;top:306.00px;transform:translateX(-50%) scaleX(0.9300);">Oct</span>
<span class="t" id="t77" style="font-size:9.00px;line-height:9.00px;color:#484848;-webkit-text-stroke:0.22px #484848;left:1125.76px;top:318.00px;transform:translateX(-50%) scaleX(0.9300);">2024</span>
<span class="t" id="t78" style="font-size:8.80px;line-height:8.80px;color:#484848;-webkit-text-stroke:0.22px #484848;left:1120.29px;top:269.30px;transform:translate(-50%,-50%) rotate(-90deg) scaleX(1.0461);">₦ 1M</span>
<span class="t" id="t79" style="font-size:8.80px;line-height:8.80px;color:#484848;-webkit-text-stroke:0.22px #484848;left:1132.18px;top:202.00px;transform:translate(-50%,-50%) rotate(-90deg) scaleX(1.0184);">₦ 25M</span>
<span class="t" id="t80" style="font-size:9.00px;line-height:9.00px;color:#484848;-webkit-text-stroke:0.22px #484848;left:1156.47px;top:306.00px;transform:translateX(-50%) scaleX(0.9300);">Nov</span>
<span class="t" id="t81" style="font-size:9.00px;line-height:9.00px;color:#484848;-webkit-text-stroke:0.22px #484848;left:1156.47px;top:318.00px;transform:translateX(-50%) scaleX(0.9300);">2024</span>
<span class="t" id="t82" style="font-size:8.80px;line-height:8.80px;color:#484848;-webkit-text-stroke:0.22px #484848;left:1151.00px;top:266.30px;transform:translate(-50%,-50%) rotate(-90deg) scaleX(1.0461);">₦ 2M</span>
<span class="t" id="t83" style="font-size:8.80px;line-height:8.80px;color:#484848;-webkit-text-stroke:0.22px #484848;left:1162.89px;top:211.40px;transform:translate(-50%,-50%) rotate(-90deg) scaleX(1.0184);">₦ 22M</span>
<span class="t" id="t84" style="font-size:9.00px;line-height:9.00px;color:#484848;-webkit-text-stroke:0.22px #484848;left:1187.18px;top:306.00px;transform:translateX(-50%) scaleX(0.9300);">Dec</span>
<span class="t" id="t85" style="font-size:9.00px;line-height:9.00px;color:#484848;-webkit-text-stroke:0.22px #484848;left:1187.18px;top:318.00px;transform:translateX(-50%) scaleX(0.9300);">2024</span>
<span class="t" id="t86" style="font-size:8.80px;line-height:8.80px;color:#484848;-webkit-text-stroke:0.22px #484848;left:1181.71px;top:270.10px;transform:translate(-50%,-50%) rotate(-90deg) scaleX(1.0461);">₦ 1M</span>
<span class="t" id="t87" style="font-size:8.80px;line-height:8.80px;color:#484848;-webkit-text-stroke:0.22px #484848;left:1193.61px;top:197.60px;transform:translate(-50%,-50%) rotate(-90deg) scaleX(1.0184);">₦ 27M</span>
<span class="t" id="t88" style="font-size:9.00px;line-height:9.00px;color:#484848;-webkit-text-stroke:0.22px #484848;left:1217.89px;top:306.00px;transform:translateX(-50%) scaleX(0.9300);">Jan</span>
<span class="t" id="t89" style="font-size:9.00px;line-height:9.00px;color:#484848;-webkit-text-stroke:0.22px #484848;left:1217.89px;top:318.00px;transform:translateX(-50%) scaleX(0.9300);">2025</span>
<span class="t" id="t90" style="font-size:8.80px;line-height:8.80px;color:#484848;-webkit-text-stroke:0.22px #484848;left:1212.42px;top:267.40px;transform:translate(-50%,-50%) rotate(-90deg) scaleX(1.0461);">₦ 2M</span>
<span class="t" id="t91" style="font-size:8.80px;line-height:8.80px;color:#fff;left:1224.32px;top:161.50px;transform:translate(-50%,-50%) rotate(-90deg) scaleX(0.9837);-webkit-text-stroke:0.3px #fff;">₦ 55M</span>
<span class="t" id="t92" style="font-size:9.00px;line-height:9.00px;color:#484848;-webkit-text-stroke:0.22px #484848;left:1248.60px;top:306.00px;transform:translateX(-50%) scaleX(0.9300);">Feb</span>
<span class="t" id="t93" style="font-size:9.00px;line-height:9.00px;color:#484848;-webkit-text-stroke:0.22px #484848;left:1248.60px;top:318.00px;transform:translateX(-50%) scaleX(0.9300);">2025</span>
<span class="t" id="t94" style="font-size:8.80px;line-height:8.80px;color:#484848;-webkit-text-stroke:0.22px #484848;left:1243.13px;top:268.20px;transform:translate(-50%,-50%) rotate(-90deg) scaleX(1.0461);">₦ 1M</span>
<span class="t" id="t95" style="font-size:8.80px;line-height:8.80px;color:#484848;-webkit-text-stroke:0.22px #484848;left:1255.03px;top:163.90px;transform:translate(-50%,-50%) rotate(-90deg) scaleX(1.0184);">₦ 39M</span>
<span class="t" id="t96" style="font-size:9.00px;line-height:9.00px;color:#484848;-webkit-text-stroke:0.22px #484848;left:1279.31px;top:306.00px;transform:translateX(-50%) scaleX(0.9300);">Mar</span>
<span class="t" id="t97" style="font-size:9.00px;line-height:9.00px;color:#484848;-webkit-text-stroke:0.22px #484848;left:1279.31px;top:318.00px;transform:translateX(-50%) scaleX(0.9300);">2025</span>
<span class="t" id="t98" style="font-size:8.80px;line-height:8.80px;color:#484848;-webkit-text-stroke:0.22px #484848;left:1273.84px;top:270.70px;transform:translate(-50%,-50%) rotate(-90deg) scaleX(1.0461);">₦ 1M</span>
<span class="t" id="t99" style="font-size:8.80px;line-height:8.80px;color:#484848;-webkit-text-stroke:0.22px #484848;left:1285.73px;top:152.20px;transform:translate(-50%,-50%) rotate(-90deg) scaleX(1.0184);">₦ 43M</span>
<span class="t" id="t100" style="font-size:11.20px;line-height:11.20px;color:#1c1b1a;font-weight:700;left:320.50px;top:348.00px;transform-origin:0 50%;transform:scaleX(0.8958);">Actual vs Expected IDS</span>
<span class="t" id="t101" style="font-size:13.00px;line-height:13.00px;color:#5a5a5a;left:400.90px;top:412.00px;transform-origin:0 50%;transform:scaleX(1.0223);">₦</span>
<span class="t" id="t102" style="font-size:13.00px;line-height:13.00px;color:#6f6f6f;left:414.10px;top:412.00px;transform-origin:0 50%;transform:scaleX(0.7839);-webkit-text-stroke:0.25px #fff;">480.5M</span>
<span class="t" id="t103" style="font-size:9.00px;line-height:9.00px;color:#484848;-webkit-text-stroke:0.22px #484848;left:324.80px;top:425.00px;transform-origin:0 50%;transform:scaleX(0.9705);">₦ 0.0bn</span>
<span class="t" id="t104" style="font-size:9.00px;line-height:9.00px;color:#484848;-webkit-text-stroke:0.22px #484848;left:493.40px;top:425.00px;transform-origin:0 50%;transform:scaleX(0.9705);">₦ 1.2bn</span>
<span class="t" id="t105" style="font-size:11.20px;line-height:11.20px;color:#1c1b1a;font-weight:700;left:545.40px;top:348.00px;transform-origin:0 50%;transform:scaleX(0.9044);">Actual vs Expected Time Charge</span>
<span class="t" id="t106" style="font-size:24.00px;line-height:24.00px;color:#666666;left:620.00px;top:411.00px;transform-origin:0 50%;transform:scaleX(0.7876);-webkit-text-stroke:0.75px #fff;">53.9K</span>
<span class="t" id="t107" style="font-size:9.00px;line-height:9.00px;color:#484848;-webkit-text-stroke:0.22px #484848;left:552.80px;top:428.00px;transform-origin:0 50%;transform:scaleX(0.9181);">0.0K</span>
<span class="t" id="t108" style="font-size:9.00px;line-height:9.00px;color:#484848;-webkit-text-stroke:0.22px #484848;left:720.00px;top:428.00px;transform-origin:0 50%;transform:scaleX(0.9078);">132.6K</span>
<span class="t" id="t109" style="font-size:11.20px;line-height:11.20px;color:#1c1b1a;font-weight:700;left:320.50px;top:454.00px;transform-origin:0 50%;transform:scaleX(0.9198);">Monthly Expected vs Actual IDS</span>
<span class="t" id="t110" style="font-size:11.30px;line-height:11.30px;color:#484848;-webkit-text-stroke:0.22px #484848;left:332.20px;top:480.00px;transform-origin:0 50%;transform:scaleX(0.9048);">Expected IDS</span>
<span class="t" id="t111" style="font-size:11.30px;line-height:11.30px;color:#484848;-webkit-text-stroke:0.22px #484848;left:411.70px;top:480.00px;transform-origin:0 50%;transform:scaleX(0.9162);">Actual IDS</span>
<span class="t" id="t112" style="font-size:9.00px;line-height:9.00px;color:#484848;-webkit-text-stroke:0.22px #484848;left:351.40px;top:674.00px;transform:translateX(-50%) scaleX(0.9300);">Apr</span>
<span class="t" id="t113" style="font-size:9.00px;line-height:9.00px;color:#484848;-webkit-text-stroke:0.22px #484848;left:351.40px;top:685.00px;transform:translateX(-50%) scaleX(0.9300);">2024</span>
<span class="t" id="t114" style="font-size:8.80px;line-height:8.80px;color:#484848;-webkit-text-stroke:0.22px #484848;left:345.02px;top:602.70px;transform:translate(-50%,-50%) rotate(-90deg) scaleX(1.0993);">₦50M</span>
<span class="t" id="t115" style="font-size:8.80px;line-height:8.80px;color:#484848;-webkit-text-stroke:0.22px #484848;left:358.42px;top:627.20px;transform:translate(-50%,-50%) rotate(-90deg) scaleX(1.0030);">₦ 14M</span>
<span class="t" id="t116" style="font-size:9.00px;line-height:9.00px;color:#484848;-webkit-text-stroke:0.22px #484848;left:385.51px;top:674.00px;transform:translateX(-50%) scaleX(0.9300);">May</span>
<span class="t" id="t117" style="font-size:9.00px;line-height:9.00px;color:#484848;-webkit-text-stroke:0.22px #484848;left:385.51px;top:685.00px;transform:translateX(-50%) scaleX(0.9300);">2024</span>
<span class="t" id="t118" style="font-size:8.80px;line-height:8.80px;color:#484848;-webkit-text-stroke:0.22px #484848;left:379.13px;top:599.60px;transform:translate(-50%,-50%) rotate(-90deg) scaleX(1.0993);">₦54M</span>
<span class="t" id="t119" style="font-size:8.80px;line-height:8.80px;color:#484848;-webkit-text-stroke:0.22px #484848;left:392.53px;top:622.90px;transform:translate(-50%,-50%) rotate(-90deg) scaleX(1.0030);">₦ 20M</span>
<span class="t" id="t120" style="font-size:9.00px;line-height:9.00px;color:#484848;-webkit-text-stroke:0.22px #484848;left:419.62px;top:674.00px;transform:translateX(-50%) scaleX(0.9300);">Jun</span>
<span class="t" id="t121" style="font-size:9.00px;line-height:9.00px;color:#484848;-webkit-text-stroke:0.22px #484848;left:419.62px;top:685.00px;transform:translateX(-50%) scaleX(0.9300);">2024</span>
<span class="t" id="t122" style="font-size:8.80px;line-height:8.80px;color:#484848;-webkit-text-stroke:0.22px #484848;left:413.24px;top:600.20px;transform:translate(-50%,-50%) rotate(-90deg) scaleX(1.0993);">₦53M</span>
<span class="t" id="t123" style="font-size:8.80px;line-height:8.80px;color:#484848;-webkit-text-stroke:0.22px #484848;left:426.64px;top:621.80px;transform:translate(-50%,-50%) rotate(-90deg) scaleX(1.0030);">₦ 22M</span>
<span class="t" id="t124" style="font-size:9.00px;line-height:9.00px;color:#484848;-webkit-text-stroke:0.22px #484848;left:453.73px;top:674.00px;transform:translateX(-50%) scaleX(0.9300);">Jul</span>
<span class="t" id="t125" style="font-size:9.00px;line-height:9.00px;color:#484848;-webkit-text-stroke:0.22px #484848;left:453.73px;top:685.00px;transform:translateX(-50%) scaleX(0.9300);">2024</span>
<span class="t" id="t126" style="font-size:8.80px;line-height:8.80px;color:#484848;-webkit-text-stroke:0.22px #484848;left:447.35px;top:599.60px;transform:translate(-50%,-50%) rotate(-90deg) scaleX(1.0993);">₦54M</span>
<span class="t" id="t127" style="font-size:8.80px;line-height:8.80px;color:#484848;-webkit-text-stroke:0.22px #484848;left:460.75px;top:619.80px;transform:translate(-50%,-50%) rotate(-90deg) scaleX(1.0030);">₦ 25M</span>
<span class="t" id="t128" style="font-size:9.00px;line-height:9.00px;color:#484848;-webkit-text-stroke:0.22px #484848;left:487.84px;top:674.00px;transform:translateX(-50%) scaleX(0.9300);">Aug</span>
<span class="t" id="t129" style="font-size:9.00px;line-height:9.00px;color:#484848;-webkit-text-stroke:0.22px #484848;left:487.84px;top:685.00px;transform:translateX(-50%) scaleX(0.9300);">2024</span>
<span class="t" id="t130" style="font-size:8.80px;line-height:8.80px;color:#484848;-webkit-text-stroke:0.22px #484848;left:481.46px;top:584.90px;transform:translate(-50%,-50%) rotate(-90deg) scaleX(1.0993);">₦75M</span>
<span class="t" id="t131" style="font-size:8.80px;line-height:8.80px;color:#484848;-webkit-text-stroke:0.22px #484848;left:494.86px;top:616.40px;transform:translate(-50%,-50%) rotate(-90deg) scaleX(1.0030);">₦ 29M</span>
<span class="t" id="t132" style="font-size:9.00px;line-height:9.00px;color:#484848;-webkit-text-stroke:0.22px #484848;left:521.95px;top:674.00px;transform:translateX(-50%) scaleX(0.9300);">Sep</span>
<span class="t" id="t133" style="font-size:9.00px;line-height:9.00px;color:#484848;-webkit-text-stroke:0.22px #484848;left:521.95px;top:685.00px;transform:translateX(-50%) scaleX(0.9300);">2024</span>
<span class="t" id="t134" style="font-size:8.80px;line-height:8.80px;color:#484848;-webkit-text-stroke:0.22px #484848;left:515.57px;top:579.80px;transform:translate(-50%,-50%) rotate(-90deg) scaleX(1.0993);">₦83M</span>
<span class="t" id="t135" style="font-size:8.80px;line-height:8.80px;color:#484848;-webkit-text-stroke:0.22px #484848;left:528.98px;top:618.70px;transform:translate(-50%,-50%) rotate(-90deg) scaleX(1.0030);">₦ 26M</span>
<span class="t" id="t136" style="font-size:9.00px;line-height:9.00px;color:#484848;-webkit-text-stroke:0.22px #484848;left:556.06px;top:674.00px;transform:translateX(-50%) scaleX(0.9300);">Oct</span>
<span class="t" id="t137" style="font-size:9.00px;line-height:9.00px;color:#484848;-webkit-text-stroke:0.22px #484848;left:556.06px;top:685.00px;transform:translateX(-50%) scaleX(0.9300);">2024</span>
<span class="t" id="t138" style="font-size:8.80px;line-height:8.80px;color:#484848;-webkit-text-stroke:0.22px #484848;left:549.68px;top:579.20px;transform:translate(-50%,-50%) rotate(-90deg) scaleX(1.0993);">₦84M</span>
<span class="t" id="t139" style="font-size:8.80px;line-height:8.80px;color:#484848;-webkit-text-stroke:0.22px #484848;left:563.09px;top:619.50px;transform:translate(-50%,-50%) rotate(-90deg) scaleX(1.0030);">₦ 25M</span>
<span class="t" id="t140" style="font-size:9.00px;line-height:9.00px;color:#484848;-webkit-text-stroke:0.22px #484848;left:590.17px;top:674.00px;transform:translateX(-50%) scaleX(0.9300);">Nov</span>
<span class="t" id="t141" style="font-size:9.00px;line-height:9.00px;color:#484848;-webkit-text-stroke:0.22px #484848;left:590.17px;top:685.00px;transform:translateX(-50%) scaleX(0.9300);">2024</span>
<span class="t" id="t142" style="font-size:8.80px;line-height:8.80px;color:#484848;-webkit-text-stroke:0.22px #484848;left:583.79px;top:593.00px;transform:translate(-50%,-50%) rotate(-90deg) scaleX(1.0993);">₦64M</span>
<span class="t" id="t143" style="font-size:8.80px;line-height:8.80px;color:#484848;-webkit-text-stroke:0.22px #484848;left:597.20px;top:622.10px;transform:translate(-50%,-50%) rotate(-90deg) scaleX(1.0030);">₦ 22M</span>
<span class="t" id="t144" style="font-size:9.00px;line-height:9.00px;color:#484848;-webkit-text-stroke:0.22px #484848;left:624.28px;top:674.00px;transform:translateX(-50%) scaleX(0.9300);">Dec</span>
<span class="t" id="t145" style="font-size:9.00px;line-height:9.00px;color:#484848;-webkit-text-stroke:0.22px #484848;left:624.28px;top:685.00px;transform:translateX(-50%) scaleX(0.9300);">2024</span>
<span class="t" id="t146" style="font-size:8.80px;line-height:8.80px;color:#484848;-webkit-text-stroke:0.22px #484848;left:617.90px;top:587.90px;transform:translate(-50%,-50%) rotate(-90deg) scaleX(1.0993);">₦71M</span>
<span class="t" id="t147" style="font-size:8.80px;line-height:8.80px;color:#484848;-webkit-text-stroke:0.22px #484848;left:631.30px;top:618.40px;transform:translate(-50%,-50%) rotate(-90deg) scaleX(1.0030);">₦ 27M</span>
<span class="t" id="t148" style="font-size:9.00px;line-height:9.00px;color:#484848;-webkit-text-stroke:0.22px #484848;left:658.39px;top:674.00px;transform:translateX(-50%) scaleX(0.9300);">Jan</span>
<span class="t" id="t149" style="font-size:9.00px;line-height:9.00px;color:#484848;-webkit-text-stroke:0.22px #484848;left:658.39px;top:685.00px;transform:translateX(-50%) scaleX(0.9300);">2025</span>
<span class="t" id="t150" style="font-size:8.80px;line-height:8.80px;color:#fff;left:651.01px;top:540.90px;transform:translate(-50%,-50%) rotate(-90deg) scaleX(1.0645);-webkit-text-stroke:0.3px #fff;">₦ 199M</span>
<span class="t" id="t151" style="font-size:8.80px;line-height:8.80px;color:#484848;-webkit-text-stroke:0.22px #484848;left:665.42px;top:598.80px;transform:translate(-50%,-50%) rotate(-90deg) scaleX(1.0030);">₦ 55M</span>
<span class="t" id="t152" style="font-size:9.00px;line-height:9.00px;color:#484848;-webkit-text-stroke:0.22px #484848;left:692.50px;top:674.00px;transform:translateX(-50%) scaleX(0.9300);">Feb</span>
<span class="t" id="t153" style="font-size:9.00px;line-height:9.00px;color:#484848;-webkit-text-stroke:0.22px #484848;left:692.50px;top:685.00px;transform:translateX(-50%) scaleX(0.9300);">2025</span>
<span class="t" id="t154" style="font-size:8.80px;line-height:8.80px;color:#484848;-webkit-text-stroke:0.22px #484848;left:685.12px;top:518.30px;transform:translate(-50%,-50%) rotate(-90deg) scaleX(1.0191);">₦ 188M</span>
<span class="t" id="t155" style="font-size:8.80px;line-height:8.80px;color:#484848;-webkit-text-stroke:0.22px #484848;left:699.52px;top:609.70px;transform:translate(-50%,-50%) rotate(-90deg) scaleX(1.0030);">₦ 39M</span>
<span class="t" id="t156" style="font-size:9.00px;line-height:9.00px;color:#484848;-webkit-text-stroke:0.22px #484848;left:726.61px;top:674.00px;transform:translateX(-50%) scaleX(0.9300);">Mar</span>
<span class="t" id="t157" style="font-size:9.00px;line-height:9.00px;color:#484848;-webkit-text-stroke:0.22px #484848;left:726.61px;top:685.00px;transform:translateX(-50%) scaleX(0.9300);">2025</span>
<span class="t" id="t158" style="font-size:8.80px;line-height:8.80px;color:#fff;left:719.23px;top:542.60px;transform:translate(-50%,-50%) rotate(-90deg) scaleX(1.0613);-webkit-text-stroke:0.3px #fff;">₦ 197M</span>
<span class="t" id="t159" style="font-size:8.80px;line-height:8.80px;color:#484848;-webkit-text-stroke:0.22px #484848;left:733.63px;top:606.40px;transform:translate(-50%,-50%) rotate(-90deg) scaleX(1.0030);">₦ 43M</span>
<span class="t" id="t160" style="font-size:9.50px;line-height:9.50px;color:#fff;-webkit-text-stroke:0.3px #fff;left:773.30px;top:353.00px;transform-origin:0 50%;transform:scaleX(0.9950);">Division</span>
<span class="t" id="t161" style="font-size:9.50px;line-height:9.50px;color:#fff;-webkit-text-stroke:0.3px #fff;left:858.10px;top:353.00px;transform-origin:0 50%;transform:scaleX(0.9884);">Actual</span>
<span class="t" id="t162" style="font-size:9.50px;line-height:9.50px;color:#fff;-webkit-text-stroke:0.3px #fff;left:858.10px;top:366.00px;transform-origin:0 50%;transform:scaleX(0.9474);">(Hrs)</span>
<span class="t" id="t163" style="font-size:9.50px;line-height:9.50px;color:#fff;-webkit-text-stroke:0.3px #fff;left:906.20px;top:353.00px;transform-origin:0 50%;transform:scaleX(0.9539);">Expected</span>
<span class="t" id="t164" style="font-size:9.50px;line-height:9.50px;color:#fff;-webkit-text-stroke:0.3px #fff;left:906.20px;top:366.00px;transform-origin:0 50%;transform:scaleX(0.9474);">(Hrs)</span>
<span class="t" id="t165" style="font-size:9.50px;line-height:9.50px;color:#fff;-webkit-text-stroke:0.3px #fff;left:955.00px;top:353.00px;transform-origin:0 50%;transform:scaleX(0.9570);">Var (Hrs)</span>
<span class="t" id="t166" style="font-size:9.50px;line-height:9.50px;color:#333333;-webkit-text-stroke:0.22px #333333;left:789.40px;top:386.00px;transform-origin:0 50%;transform:scaleX(0.9156);">Inclusio</span>
<span class="t" id="t167" style="font-size:9.50px;line-height:9.50px;color:#333333;-webkit-text-stroke:0.22px #333333;right:568.50px;top:386.00px;transform-origin:100% 50%;transform:scaleX(0.8912);">53,925</span>
<span class="t" id="t168" style="font-size:9.50px;line-height:9.50px;color:#333333;-webkit-text-stroke:0.22px #333333;right:519.80px;top:386.00px;transform-origin:100% 50%;transform:scaleX(0.8968);">132,632</span>
<span class="t" id="t169" style="font-size:9.50px;line-height:9.50px;color:#333333;-webkit-text-stroke:0.22px #333333;right:473.80px;top:386.00px;transform-origin:100% 50%;transform:scaleX(0.8912);">78,707</span>
<span class="t" id="t170" style="font-size:9.50px;line-height:9.50px;color:#1f1f1f;font-weight:700;left:789.40px;top:400.00px;transform-origin:0 50%;transform:scaleX(0.8591);">Total</span>
<span class="t" id="t171" style="font-size:9.50px;line-height:9.50px;color:#1f1f1f;font-weight:700;right:568.50px;top:400.00px;transform-origin:100% 50%;transform:scaleX(0.9084);">53,925</span>
<span class="t" id="t172" style="font-size:9.50px;line-height:9.50px;color:#1f1f1f;font-weight:700;right:519.80px;top:400.00px;transform-origin:100% 50%;transform:scaleX(0.9085);">132,632</span>
<span class="t" id="t173" style="font-size:9.50px;line-height:9.50px;color:#1f1f1f;font-weight:700;right:473.80px;top:400.00px;transform-origin:100% 50%;transform:scaleX(0.9084);">78,707</span>
<span class="t" id="t174" style="font-size:9.50px;line-height:9.50px;color:#fff;-webkit-text-stroke:0.3px #fff;left:1025.00px;top:353.00px;transform-origin:0 50%;transform:scaleX(0.9775);">Employee</span>
<span class="t" id="t175" style="font-size:9.50px;line-height:9.50px;color:#fff;-webkit-text-stroke:0.3px #fff;left:1140.00px;top:353.00px;transform-origin:0 50%;transform:scaleX(0.9884);">Actual</span>
<span class="t" id="t176" style="font-size:9.50px;line-height:9.50px;color:#fff;-webkit-text-stroke:0.3px #fff;left:1140.00px;top:366.00px;transform-origin:0 50%;transform:scaleX(0.9474);">(Hrs)</span>
<span class="t" id="t177" style="font-size:9.50px;line-height:9.50px;color:#fff;-webkit-text-stroke:0.3px #fff;left:1187.90px;top:353.00px;transform-origin:0 50%;transform:scaleX(0.9539);">Expected</span>
<span class="t" id="t178" style="font-size:9.50px;line-height:9.50px;color:#fff;-webkit-text-stroke:0.3px #fff;left:1187.90px;top:366.00px;transform-origin:0 50%;transform:scaleX(0.9474);">(Hrs)</span>
<span class="t" id="t179" style="font-size:9.50px;line-height:9.50px;color:#fff;-webkit-text-stroke:0.3px #fff;left:1236.30px;top:353.00px;transform-origin:0 50%;transform:scaleX(0.9570);">Var (Hrs)</span>
<span class="t" id="t180" style="font-size:9.50px;line-height:9.50px;color:#fff;-webkit-text-stroke:0.3px #fff;left:1282.90px;top:353.00px;transform-origin:0 50%;transform:scaleX(0.8800);width:16.5px;overflow:hidden;">Status</span>
<span class="t" id="t181" style="font-size:9.50px;line-height:9.50px;color:#333333;-webkit-text-stroke:0.22px #333333;left:1041.60px;top:386.00px;transform-origin:0 50%;transform:scaleX(0.8978);">Goodness Igboin</span>
<span class="t" id="t182" style="font-size:9.50px;line-height:9.50px;color:#333333;-webkit-text-stroke:0.22px #333333;right:237.40px;top:386.00px;transform-origin:100% 50%;transform:scaleX(0.8750);">2,088</span>
<span class="t" id="t183" style="font-size:9.50px;line-height:9.50px;color:#333333;-webkit-text-stroke:0.22px #333333;right:191.30px;top:386.00px;transform-origin:100% 50%;transform:scaleX(0.8750);">2,088</span>
<span class="t" id="t184" style="font-size:9.50px;line-height:9.50px;color:#333333;-webkit-text-stroke:0.22px #333333;left:1282.90px;top:386.00px;transform-origin:0 50%;transform:scaleX(0.8800);width:15.4px;overflow:hidden;">Active</span>
<span class="t" id="t185" style="font-size:9.50px;line-height:9.50px;color:#333333;-webkit-text-stroke:0.22px #333333;left:1041.60px;top:399.00px;transform-origin:0 50%;transform:scaleX(0.9192);">Amarachi Mba</span>
<span class="t" id="t186" style="font-size:9.50px;line-height:9.50px;color:#333333;-webkit-text-stroke:0.22px #333333;right:286.10px;top:399.00px;transform-origin:100% 50%;transform:scaleX(0.8750);">72</span>
<span class="t" id="t187" style="font-size:9.50px;line-height:9.50px;color:#333333;-webkit-text-stroke:0.22px #333333;right:237.40px;top:399.00px;transform-origin:100% 50%;transform:scaleX(0.8750);">2,088</span>
<span class="t" id="t188" style="font-size:9.50px;line-height:9.50px;color:#333333;-webkit-text-stroke:0.22px #333333;right:191.30px;top:399.00px;transform-origin:100% 50%;transform:scaleX(0.8750);">2,016</span>
<span class="t" id="t189" style="font-size:9.50px;line-height:9.50px;color:#333333;-webkit-text-stroke:0.22px #333333;left:1282.90px;top:399.00px;transform-origin:0 50%;transform:scaleX(0.8800);width:15.4px;overflow:hidden;">Active</span>
<span class="t" id="t190" style="font-size:9.50px;line-height:9.50px;color:#333333;-webkit-text-stroke:0.22px #333333;left:1041.60px;top:413.00px;transform-origin:0 50%;transform:scaleX(0.9381);">Mutiu Bashiru</span>
<span class="t" id="t191" style="font-size:9.50px;line-height:9.50px;color:#333333;-webkit-text-stroke:0.22px #333333;right:286.10px;top:413.00px;transform-origin:100% 50%;transform:scaleX(0.8750);">88</span>
<span class="t" id="t192" style="font-size:9.50px;line-height:9.50px;color:#333333;-webkit-text-stroke:0.22px #333333;right:237.40px;top:413.00px;transform-origin:100% 50%;transform:scaleX(0.8750);">2,088</span>
<span class="t" id="t193" style="font-size:9.50px;line-height:9.50px;color:#333333;-webkit-text-stroke:0.22px #333333;right:191.30px;top:413.00px;transform-origin:100% 50%;transform:scaleX(0.8750);">2,000</span>
<span class="t" id="t194" style="font-size:9.50px;line-height:9.50px;color:#333333;-webkit-text-stroke:0.22px #333333;left:1282.90px;top:413.00px;transform-origin:0 50%;transform:scaleX(0.8800);width:15.4px;overflow:hidden;">Active</span>
<span class="t" id="t195" style="font-size:9.50px;line-height:9.50px;color:#333333;-webkit-text-stroke:0.22px #333333;left:1041.60px;top:426.00px;transform-origin:0 50%;transform:scaleX(0.8983);">Akolade Oketayo</span>
<span class="t" id="t196" style="font-size:9.50px;line-height:9.50px;color:#333333;-webkit-text-stroke:0.22px #333333;right:286.10px;top:426.00px;transform-origin:100% 50%;transform:scaleX(0.8750);">120</span>
<span class="t" id="t197" style="font-size:9.50px;line-height:9.50px;color:#333333;-webkit-text-stroke:0.22px #333333;right:237.40px;top:426.00px;transform-origin:100% 50%;transform:scaleX(0.8750);">2,088</span>
<span class="t" id="t198" style="font-size:9.50px;line-height:9.50px;color:#333333;-webkit-text-stroke:0.22px #333333;right:191.30px;top:426.00px;transform-origin:100% 50%;transform:scaleX(0.8750);">1,968</span>
<span class="t" id="t199" style="font-size:9.50px;line-height:9.50px;color:#333333;-webkit-text-stroke:0.22px #333333;left:1282.90px;top:426.00px;transform-origin:0 50%;transform:scaleX(0.8800);width:15.4px;overflow:hidden;">Active</span>
<span class="t" id="t200" style="font-size:9.50px;line-height:9.50px;color:#333333;-webkit-text-stroke:0.22px #333333;left:1041.60px;top:440.00px;transform-origin:0 50%;transform:scaleX(0.9263);">Oluwaseun Aromire</span>
<span class="t" id="t201" style="font-size:9.50px;line-height:9.50px;color:#333333;-webkit-text-stroke:0.22px #333333;right:286.10px;top:440.00px;transform-origin:100% 50%;transform:scaleX(0.8750);">128</span>
<span class="t" id="t202" style="font-size:9.50px;line-height:9.50px;color:#333333;-webkit-text-stroke:0.22px #333333;right:237.40px;top:440.00px;transform-origin:100% 50%;transform:scaleX(0.8750);">2,088</span>
<span class="t" id="t203" style="font-size:9.50px;line-height:9.50px;color:#333333;-webkit-text-stroke:0.22px #333333;right:191.30px;top:440.00px;transform-origin:100% 50%;transform:scaleX(0.8750);">1,960</span>
<span class="t" id="t204" style="font-size:9.50px;line-height:9.50px;color:#333333;-webkit-text-stroke:0.22px #333333;left:1282.90px;top:440.00px;transform-origin:0 50%;transform:scaleX(0.8800);width:15.4px;overflow:hidden;">Active</span>
<span class="t" id="t205" style="font-size:9.50px;line-height:9.50px;color:#333333;-webkit-text-stroke:0.22px #333333;left:1041.60px;top:453.00px;transform-origin:0 50%;transform:scaleX(0.9103);">Paul Mbagwu</span>
<span class="t" id="t206" style="font-size:9.50px;line-height:9.50px;color:#333333;-webkit-text-stroke:0.22px #333333;right:286.10px;top:453.00px;transform-origin:100% 50%;transform:scaleX(0.8750);">160</span>
<span class="t" id="t207" style="font-size:9.50px;line-height:9.50px;color:#333333;-webkit-text-stroke:0.22px #333333;right:237.40px;top:453.00px;transform-origin:100% 50%;transform:scaleX(0.8750);">2,088</span>
<span class="t" id="t208" style="font-size:9.50px;line-height:9.50px;color:#333333;-webkit-text-stroke:0.22px #333333;right:191.30px;top:453.00px;transform-origin:100% 50%;transform:scaleX(0.8750);">1,928</span>
<span class="t" id="t209" style="font-size:9.50px;line-height:9.50px;color:#333333;-webkit-text-stroke:0.22px #333333;left:1282.90px;top:453.00px;transform-origin:0 50%;transform:scaleX(0.8800);width:15.4px;overflow:hidden;">Active</span>
<span class="t" id="t210" style="font-size:9.50px;line-height:9.50px;color:#333333;-webkit-text-stroke:0.22px #333333;left:1041.60px;top:467.00px;transform-origin:0 50%;transform:scaleX(0.8758);">Onyeka Ukpaka</span>
<span class="t" id="t211" style="font-size:9.50px;line-height:9.50px;color:#333333;-webkit-text-stroke:0.22px #333333;right:286.10px;top:467.00px;transform-origin:100% 50%;transform:scaleX(0.8750);">168</span>
<span class="t" id="t212" style="font-size:9.50px;line-height:9.50px;color:#333333;-webkit-text-stroke:0.22px #333333;right:237.40px;top:467.00px;transform-origin:100% 50%;transform:scaleX(0.8750);">2,088</span>
<span class="t" id="t213" style="font-size:9.50px;line-height:9.50px;color:#333333;-webkit-text-stroke:0.22px #333333;right:191.30px;top:467.00px;transform-origin:100% 50%;transform:scaleX(0.8750);">1,920</span>
<span class="t" id="t214" style="font-size:9.50px;line-height:9.50px;color:#333333;-webkit-text-stroke:0.22px #333333;left:1282.90px;top:467.00px;transform-origin:0 50%;transform:scaleX(0.8800);width:15.4px;overflow:hidden;">Active</span>
<span class="t" id="t215" style="font-size:9.50px;line-height:9.50px;color:#333333;-webkit-text-stroke:0.22px #333333;left:1041.60px;top:480.00px;transform-origin:0 50%;transform:scaleX(0.9127);">Rosemary Aimankhu</span>
<span class="t" id="t216" style="font-size:9.50px;line-height:9.50px;color:#333333;-webkit-text-stroke:0.22px #333333;right:237.40px;top:480.00px;transform-origin:100% 50%;transform:scaleX(0.8750);">1,920</span>
<span class="t" id="t217" style="font-size:9.50px;line-height:9.50px;color:#333333;-webkit-text-stroke:0.22px #333333;right:191.30px;top:480.00px;transform-origin:100% 50%;transform:scaleX(0.8750);">1,920</span>
<span class="t" id="t218" style="font-size:9.50px;line-height:9.50px;color:#333333;-webkit-text-stroke:0.22px #333333;left:1282.90px;top:480.00px;transform-origin:0 50%;transform:scaleX(0.8800);width:15.4px;overflow:hidden;">Active</span>
<span class="t" id="t219" style="font-size:9.50px;line-height:9.50px;color:#1f1f1f;font-weight:700;left:1041.60px;top:493.00px;transform-origin:0 50%;transform:scaleX(0.8591);">Total</span>
<span class="t" id="t220" style="font-size:9.50px;line-height:9.50px;color:#1f1f1f;font-weight:700;right:286.10px;top:493.00px;transform-origin:100% 50%;transform:scaleX(0.9153);">53,925</span>
<span class="t" id="t221" style="font-size:9.50px;line-height:9.50px;color:#1f1f1f;font-weight:700;right:237.40px;top:493.00px;transform-origin:100% 50%;transform:scaleX(0.9085);">132,632</span>
<span class="t" id="t222" style="font-size:9.50px;line-height:9.50px;color:#1f1f1f;font-weight:700;right:191.30px;top:493.00px;transform-origin:100% 50%;transform:scaleX(0.9153);">78,707</span>
<span class="t" id="t223" style="font-size:9.50px;line-height:9.50px;color:#1f1f1f;font-weight:700;left:1282.90px;top:493.00px;transform-origin:0 50%;transform:scaleX(0.8800);width:16.0px;overflow:hidden;">Active</span>
<span class="t" id="t224" style="font-size:9.50px;line-height:9.50px;color:#fff;-webkit-text-stroke:0.3px #fff;left:1025.50px;top:533.00px;transform-origin:0 50%;transform:scaleX(0.9286);">Number of employees</span>
<span class="t" id="t225" style="font-size:9.50px;line-height:9.50px;color:#fff;-webkit-text-stroke:0.3px #fff;left:1142.10px;top:533.00px;transform-origin:0 50%;transform:scaleX(0.9000);">Apr</span>
<span class="t" id="t226" style="font-size:9.50px;line-height:9.50px;color:#fff;-webkit-text-stroke:0.3px #fff;left:1173.70px;top:533.00px;transform-origin:0 50%;transform:scaleX(0.9000);">May</span>
<span class="t" id="t227" style="font-size:9.50px;line-height:9.50px;color:#fff;-webkit-text-stroke:0.3px #fff;left:1205.30px;top:533.00px;transform-origin:0 50%;transform:scaleX(0.9000);">Jun</span>
<span class="t" id="t228" style="font-size:9.50px;line-height:9.50px;color:#fff;-webkit-text-stroke:0.3px #fff;left:1236.80px;top:533.00px;transform-origin:0 50%;transform:scaleX(0.9000);">Jul</span>
<span class="t" id="t229" style="font-size:9.50px;line-height:9.50px;color:#fff;-webkit-text-stroke:0.3px #fff;left:1268.40px;top:533.00px;transform-origin:0 50%;transform:scaleX(0.9000);">Aug</span>
<span class="t" id="t230" style="font-size:9.50px;line-height:9.50px;color:#333333;-webkit-text-stroke:0.22px #333333;left:1025.50px;top:554.00px;transform-origin:0 50%;transform:scaleX(0.9260);">Abdul-hafiz Ibrahim</span>
<span class="t" id="t231" style="font-size:9.50px;line-height:9.50px;color:#333333;-webkit-text-stroke:0.22px #333333;left:1025.50px;top:568.00px;transform-origin:0 50%;transform:scaleX(0.9206);">Abdulrasheed Ilori</span>
<span class="t" id="t232" style="font-size:9.50px;line-height:9.50px;color:#333333;-webkit-text-stroke:0.22px #333333;left:1025.50px;top:581.00px;transform-origin:0 50%;transform:scaleX(0.8931);">Abigail Oke</span>
<span class="t" id="t233" style="font-size:9.50px;line-height:9.50px;color:#333333;-webkit-text-stroke:0.22px #333333;left:1025.50px;top:595.00px;transform-origin:0 50%;transform:scaleX(0.9041);">Able Nkanta</span>
<span class="t" id="t234" style="font-size:9.50px;line-height:9.50px;color:#333333;-webkit-text-stroke:0.22px #333333;left:1025.50px;top:608.00px;transform-origin:0 50%;transform:scaleX(0.9114);">Abraham Akam</span>
<span class="t" id="t235" style="font-size:9.50px;line-height:9.50px;color:#333333;-webkit-text-stroke:0.22px #333333;right:300.00px;top:608.00px;transform-origin:100% 50%;transform:scaleX(0.8750);">144</span>
<span class="t" id="t236" style="font-size:9.50px;line-height:9.50px;color:#333333;-webkit-text-stroke:0.22px #333333;right:269.00px;top:608.00px;transform-origin:100% 50%;transform:scaleX(0.8750);">184</span>
<span class="t" id="t237" style="font-size:9.50px;line-height:9.50px;color:#333333;-webkit-text-stroke:0.22px #333333;right:237.40px;top:608.00px;transform-origin:100% 50%;transform:scaleX(0.8750);">160</span>
<span class="t" id="t238" style="font-size:9.50px;line-height:9.50px;color:#333333;-webkit-text-stroke:0.22px #333333;right:205.80px;top:608.00px;transform-origin:100% 50%;transform:scaleX(0.8750);">184</span>
<span class="t" id="t239" style="font-size:9.50px;line-height:9.50px;color:#333333;-webkit-text-stroke:0.22px #333333;right:174.20px;top:608.00px;transform-origin:100% 50%;transform:scaleX(0.8750);">176</span>
<span class="t" id="t240" style="font-size:9.50px;line-height:9.50px;color:#333333;-webkit-text-stroke:0.22px #333333;left:1025.50px;top:622.00px;transform-origin:0 50%;transform:scaleX(0.8771);">Adaeze Okpara</span>
<span class="t" id="t241" style="font-size:9.50px;line-height:9.50px;color:#333333;-webkit-text-stroke:0.22px #333333;left:1025.50px;top:635.00px;transform-origin:0 50%;transform:scaleX(0.9072);">Adaku Oyinbinaebi Opara</span>
<span class="t" id="t242" style="font-size:9.50px;line-height:9.50px;color:#333333;-webkit-text-stroke:0.22px #333333;left:1025.50px;top:649.00px;transform-origin:0 50%;transform:scaleX(0.8853);">Adaugo Ezenwa-Uche</span>
<span class="t" id="t243" style="font-size:9.50px;line-height:9.50px;color:#333333;-webkit-text-stroke:0.22px #333333;left:1025.50px;top:662.00px;transform-origin:0 50%;transform:scaleX(0.8682);">Adebayo Razaq</span>
<span class="t" id="t244" style="font-size:9.50px;line-height:9.50px;color:#333333;-webkit-text-stroke:0.22px #333333;left:1025.50px;top:674.00px;transform-origin:0 50%;transform:scaleX(0.8600);height:3.0px;overflow:hidden;">Adebisi Oluwafemi</span>
<span class="t" id="t245" style="font-size:9.50px;line-height:9.50px;color:#1f1f1f;font-weight:700;left:1025.50px;top:678.00px;transform-origin:0 50%;transform:scaleX(0.8591);">Total</span>
<span class="t" id="t246" style="font-size:9.50px;line-height:9.50px;color:#1f1f1f;font-weight:700;right:300.00px;top:678.00px;transform-origin:100% 50%;transform:scaleX(0.9083);">1,570</span>
<span class="t" id="t247" style="font-size:9.50px;line-height:9.50px;color:#1f1f1f;font-weight:700;right:269.00px;top:678.00px;transform-origin:100% 50%;transform:scaleX(0.9083);">2,208</span>
<span class="t" id="t248" style="font-size:9.50px;line-height:9.50px;color:#1f1f1f;font-weight:700;right:237.40px;top:678.00px;transform-origin:100% 50%;transform:scaleX(0.9083);">2,225</span>
<span class="t" id="t249" style="font-size:9.50px;line-height:9.50px;color:#1f1f1f;font-weight:700;right:205.80px;top:678.00px;transform-origin:100% 50%;transform:scaleX(0.9083);">2,753</span>
<span class="t" id="t250" style="font-size:9.50px;line-height:9.50px;color:#1f1f1f;font-weight:700;right:174.20px;top:678.00px;transform-origin:100% 50%;transform:scaleX(0.9083);">3,086</span>
<span class="t" id="t251" style="font-size:9.50px;line-height:9.50px;color:#fff;-webkit-text-stroke:0.3px #fff;left:776.50px;top:535.00px;transform-origin:0 50%;transform:scaleX(1.0040);">Division</span>
<span class="t" id="t252" style="font-size:9.50px;line-height:9.50px;color:#fff;-webkit-text-stroke:0.3px #fff;right:609.70px;top:535.00px;transform-origin:100% 50%;transform:scaleX(0.9922);">Actual</span>
<span class="t" id="t253" style="font-size:9.50px;line-height:9.50px;color:#fff;-webkit-text-stroke:0.3px #fff;right:609.70px;top:547.00px;transform-origin:100% 50%;transform:scaleX(0.8710);">IDS</span>
<span class="t" id="t254" style="font-size:9.50px;line-height:9.50px;color:#fff;-webkit-text-stroke:0.3px #fff;right:559.20px;top:535.00px;transform-origin:100% 50%;transform:scaleX(0.9539);">Expected</span>
<span class="t" id="t255" style="font-size:9.50px;line-height:9.50px;color:#fff;-webkit-text-stroke:0.3px #fff;right:559.20px;top:547.00px;transform-origin:100% 50%;transform:scaleX(0.8710);">IDS</span>
<span class="t" id="t256" style="font-size:9.50px;line-height:9.50px;color:#fff;-webkit-text-stroke:0.3px #fff;right:511.70px;top:535.00px;transform-origin:100% 50%;transform:scaleX(0.9692);">Pending</span>
<span class="t" id="t257" style="font-size:9.50px;line-height:9.50px;color:#fff;-webkit-text-stroke:0.3px #fff;right:511.70px;top:547.00px;transform-origin:100% 50%;transform:scaleX(0.8710);">IDS</span>
<span class="t" id="t258" style="font-size:9.50px;line-height:9.50px;color:#fff;-webkit-text-stroke:0.3px #fff;right:463.40px;top:535.00px;transform-origin:100% 50%;transform:scaleX(0.9133);">(%)</span>
<span class="t" id="t259" style="font-size:9.50px;line-height:9.50px;color:#333333;-webkit-text-stroke:0.22px #333333;left:773.50px;top:568.00px;transform-origin:0 50%;transform:scaleX(0.9032);">Inclusio</span>
<span class="t" id="t260" style="font-size:9.50px;line-height:9.50px;color:#1f1f1f;font-weight:700;left:773.50px;top:581.00px;transform-origin:0 50%;transform:scaleX(0.8591);">Total</span>
<span class="t" id="t261" style="font-size:9.50px;line-height:9.50px;color:#333333;-webkit-text-stroke:0.22px #333333;right:609.20px;top:568.00px;transform-origin:100% 50%;transform:scaleX(0.9319);">₦ 480M</span>
<span class="t" id="t262" style="font-size:9.50px;line-height:9.50px;color:#333333;-webkit-text-stroke:0.22px #333333;right:559.00px;top:568.00px;transform-origin:100% 50%;transform:scaleX(0.9372);">₦ 1,194M</span>
<span class="t" id="t263" style="font-size:9.50px;line-height:9.50px;color:#333333;-webkit-text-stroke:0.22px #333333;right:511.20px;top:568.00px;transform-origin:100% 50%;transform:scaleX(0.9319);">₦ 709M</span>
<span class="t" id="t264" style="font-size:9.50px;line-height:9.50px;color:#333333;-webkit-text-stroke:0.22px #333333;right:463.40px;top:568.00px;transform-origin:100% 50%;transform:scaleX(0.8744);">-60%</span>
<span class="t" id="t265" style="font-size:9.50px;line-height:9.50px;color:#1f1f1f;font-weight:700;right:609.20px;top:581.00px;transform-origin:100% 50%;transform:scaleX(0.9319);">₦ 480M</span>
<span class="t" id="t266" style="font-size:9.50px;line-height:9.50px;color:#1f1f1f;font-weight:700;right:559.00px;top:581.00px;transform-origin:100% 50%;transform:scaleX(0.9372);">₦ 1,194M</span>
<span class="t" id="t267" style="font-size:9.50px;line-height:9.50px;color:#1f1f1f;font-weight:700;right:511.20px;top:581.00px;transform-origin:100% 50%;transform:scaleX(0.9319);">₦ 709M</span>
<span class="t" id="t268" style="font-size:9.50px;line-height:9.50px;color:#1f1f1f;font-weight:700;right:463.40px;top:581.00px;transform-origin:100% 50%;transform:scaleX(0.8744);">-60%</span>
</body></html>
